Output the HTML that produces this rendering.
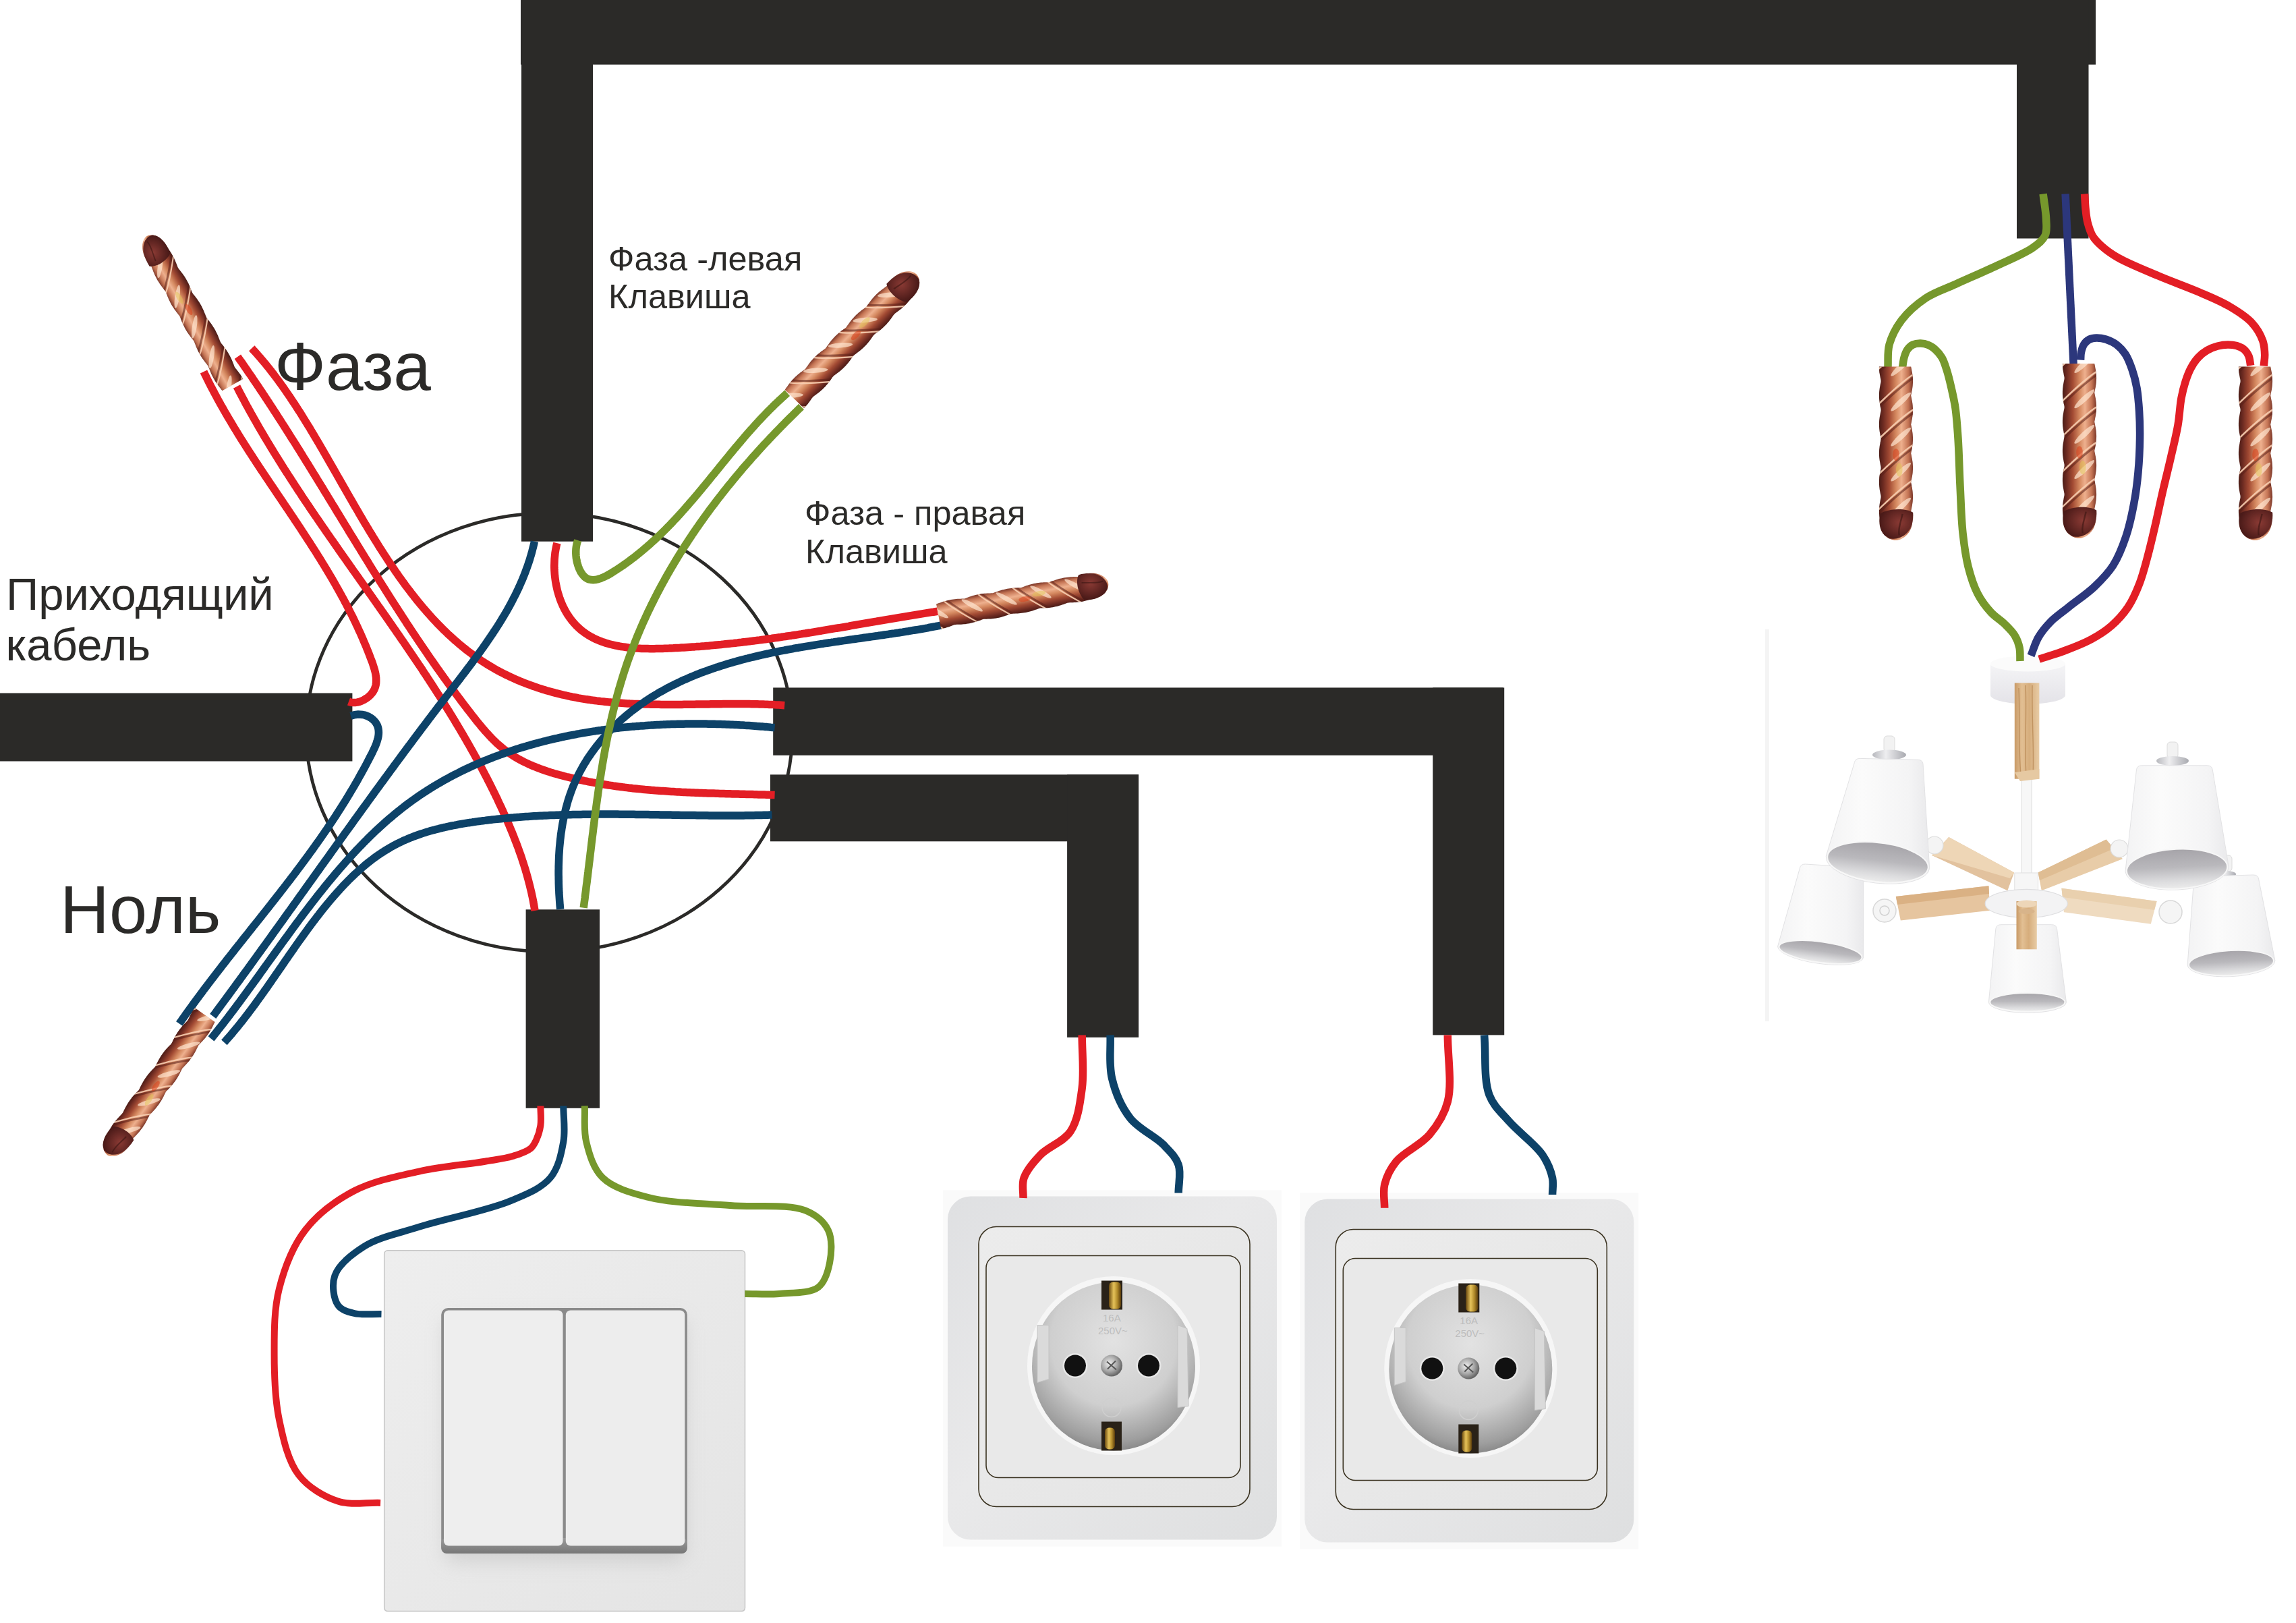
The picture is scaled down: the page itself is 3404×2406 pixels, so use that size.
<!DOCTYPE html>
<html><head><meta charset="utf-8"><style>
html,body{margin:0;padding:0;background:#fff;}
svg{display:block;}
text{font-family:"Liberation Sans", sans-serif;fill:#2b2a28;}
</style></head><body>
<svg xmlns="http://www.w3.org/2000/svg" width="3404" height="2406" viewBox="0 0 3404 2406">
<defs>
<linearGradient id="swplate" x1="0" y1="0" x2="1" y2="1">
<stop offset="0" stop-color="#eeeeee"/><stop offset="0.5" stop-color="#e9e9e9"/><stop offset="1" stop-color="#e4e4e4"/>
</linearGradient>
<filter id="swshadow" x="-20%" y="-20%" width="140%" height="150%">
<feGaussianBlur stdDeviation="14"/>
</filter>
<linearGradient id="rockbot" x1="0" y1="0" x2="0" y2="1">
<stop offset="0" stop-color="#9a9a9a"/><stop offset="1" stop-color="#777"/>
</linearGradient>
<linearGradient id="skplate" x1="0" y1="0" x2="1" y2="1">
<stop offset="0" stop-color="#dfe0e2"/><stop offset="0.45" stop-color="#e9e9ea"/><stop offset="1" stop-color="#dedfe0"/>
</linearGradient>
<linearGradient id="skin" x1="0" y1="0" x2="1" y2="1">
<stop offset="0" stop-color="#ececec"/><stop offset="1" stop-color="#e4e4e4"/>
</linearGradient>
<radialGradient id="recess" cx="0.5" cy="0.35" r="0.7">
<stop offset="0" stop-color="#e2e2e2"/><stop offset="0.55" stop-color="#cfcfcf"/><stop offset="0.85" stop-color="#9e9e9e"/><stop offset="1" stop-color="#777"/>
</radialGradient>
<linearGradient id="brass" x1="0" y1="0" x2="1" y2="0">
<stop offset="0" stop-color="#6b4a10"/><stop offset="0.4" stop-color="#e6c35a"/><stop offset="0.7" stop-color="#b08a2a"/><stop offset="1" stop-color="#5a3c0c"/>
</linearGradient>
<radialGradient id="screw" cx="0.4" cy="0.4" r="0.6">
<stop offset="0" stop-color="#f0f0f0"/><stop offset="0.6" stop-color="#a8a8a8"/><stop offset="1" stop-color="#666"/>
</radialGradient>
</defs>
<rect x="569.7" y="1853.8" width="534.8" height="534.8" rx="5" fill="url(#swplate)" stroke="#c6c6c6" stroke-width="1.5"/>
<rect x="660" y="1955" width="355" height="360" rx="12" fill="#bdbdbd" opacity="0.55" filter="url(#swshadow)"/>
<rect x="654.2" y="1939" width="364.7" height="364" rx="10" fill="#8a8a8a"/>
<rect x="654.2" y="2280" width="364.7" height="23" rx="8" fill="url(#rockbot)"/>
<rect x="658" y="1942.5" width="176.5" height="349" rx="7" fill="#eeeeee"/>
<rect x="838.8" y="1942.5" width="176.5" height="349" rx="7" fill="#ededed"/>
<g transform="translate(1650.0 2024.5)">
<rect x="-252" y="-260" width="502" height="528" fill="#fafafa"/>
<rect x="-245" y="-251" width="488" height="509" rx="34" fill="url(#skplate)"/>
<rect x="-199" y="-206" width="402" height="415" rx="26" fill="url(#skin)" stroke="#3a3220" stroke-width="1.6"/>
<rect x="-188" y="-163" width="377" height="329" rx="18" fill="#e9e9e9" stroke="#3a3220" stroke-width="1.6"/>
<ellipse cx="1" cy="0" rx="128" ry="132.5" fill="#f6f6f6"/>
<ellipse cx="1" cy="1" rx="121" ry="125" fill="url(#recess)"/>
<path d="M-112 -60 L-95 -60 L-95 20 L-112 25 Z M96 -60 L110 -55 L112 60 L96 62 Z" fill="#dadada" stroke="#c4c4c4" stroke-width="1"/>
<rect x="-17" y="-126" width="31" height="43" fill="#2a2218"/>
<rect x="-6" y="-124" width="18" height="40" rx="6" fill="url(#brass)"/>
<rect x="-17" y="83" width="30" height="43" fill="#2a2218"/>
<rect x="-12" y="92" width="15" height="32" rx="6" fill="url(#brass)"/>
<circle cx="-56" cy="0" r="18.5" fill="#e8e8e8"/>
<circle cx="-56" cy="0" r="16" fill="#111"/>
<circle cx="53" cy="0" r="18.5" fill="#e8e8e8"/>
<circle cx="53" cy="0" r="16" fill="#111"/>
<circle cx="-2" cy="0" r="16" fill="url(#screw)"/>
<path d="M-9 -6 L5 6 M-8 5 L4 -7" stroke="#555" stroke-width="2"/>
<text x="-15" y="-66" font-size="15" fill="#bdbdbd" style="fill:#bdbdbd">16A</text>
<text x="-22" y="-47" font-size="15" fill="#bdbdbd" style="fill:#bdbdbd">250V~</text>
<circle cx="-2" cy="62" r="14" fill="none" stroke="#cfcfcf" stroke-width="1.5"/>
</g>
<g transform="translate(2179.3 2028.5)">
<rect x="-252" y="-260" width="502" height="528" fill="#fafafa"/>
<rect x="-245" y="-251" width="488" height="509" rx="34" fill="url(#skplate)"/>
<rect x="-199" y="-206" width="402" height="415" rx="26" fill="url(#skin)" stroke="#3a3220" stroke-width="1.6"/>
<rect x="-188" y="-163" width="377" height="329" rx="18" fill="#e9e9e9" stroke="#3a3220" stroke-width="1.6"/>
<ellipse cx="1" cy="0" rx="128" ry="132.5" fill="#f6f6f6"/>
<ellipse cx="1" cy="1" rx="121" ry="125" fill="url(#recess)"/>
<path d="M-112 -60 L-95 -60 L-95 20 L-112 25 Z M96 -60 L110 -55 L112 60 L96 62 Z" fill="#dadada" stroke="#c4c4c4" stroke-width="1"/>
<rect x="-17" y="-126" width="31" height="43" fill="#2a2218"/>
<rect x="-6" y="-124" width="18" height="40" rx="6" fill="url(#brass)"/>
<rect x="-17" y="83" width="30" height="43" fill="#2a2218"/>
<rect x="-12" y="92" width="15" height="32" rx="6" fill="url(#brass)"/>
<circle cx="-56" cy="0" r="18.5" fill="#e8e8e8"/>
<circle cx="-56" cy="0" r="16" fill="#111"/>
<circle cx="53" cy="0" r="18.5" fill="#e8e8e8"/>
<circle cx="53" cy="0" r="16" fill="#111"/>
<circle cx="-2" cy="0" r="16" fill="url(#screw)"/>
<path d="M-9 -6 L5 6 M-8 5 L4 -7" stroke="#555" stroke-width="2"/>
<text x="-15" y="-66" font-size="15" fill="#bdbdbd" style="fill:#bdbdbd">16A</text>
<text x="-22" y="-47" font-size="15" fill="#bdbdbd" style="fill:#bdbdbd">250V~</text>
<circle cx="-2" cy="62" r="14" fill="none" stroke="#cfcfcf" stroke-width="1.5"/>
</g>
<defs>
<linearGradient id="shade" x1="0" y1="0" x2="1" y2="0">
<stop offset="0" stop-color="#f3f3f4"/><stop offset="0.35" stop-color="#fbfbfb"/><stop offset="0.8" stop-color="#f4f4f5"/><stop offset="1" stop-color="#e9e9eb"/>
</linearGradient>
<linearGradient id="inner" x1="0" y1="0" x2="0" y2="1">
<stop offset="0" stop-color="#a6a4a9"/><stop offset="0.45" stop-color="#b9b8bc"/><stop offset="0.8" stop-color="#dcdcde"/><stop offset="1" stop-color="#ececec"/>
</linearGradient>
<linearGradient id="silver" x1="0" y1="0" x2="1" y2="0">
<stop offset="0" stop-color="#b8b9be"/><stop offset="0.4" stop-color="#eeeef0"/><stop offset="1" stop-color="#a9aab0"/>
</linearGradient>
<linearGradient id="woodv" x1="0" y1="0" x2="1" y2="0">
<stop offset="0" stop-color="#c99a66"/><stop offset="0.3" stop-color="#e2bf93"/><stop offset="0.6" stop-color="#d6ad7c"/><stop offset="1" stop-color="#e8cca6"/>
</linearGradient>
<linearGradient id="canopy" x1="0" y1="0" x2="0" y2="1">
<stop offset="0" stop-color="#f4f4f6"/><stop offset="1" stop-color="#e4e3e8"/>
</linearGradient>
</defs>
<rect x="2617" y="933" width="5.8" height="581" fill="#f4f4f4"/>
<path d="M2668.4 1287.0 Q2669.4 1281.0 2676.4 1281.0 L2754.7 1286.0 Q2761.7 1286.0 2762.7 1292.0 L2762.4 1420.1 A64.0 17.5 7.70 0 1 2635.6 1402.9 Z" fill="url(#shade)" stroke="#e2e2e4" stroke-width="1"/>
<ellipse cx="2699.0" cy="1411.5" rx="62.0" ry="15.5" transform="rotate(7.70 2699.0 1411.5)" fill="url(#inner)" stroke="#f7f7f7" stroke-width="2"/>
<rect x="3293.0" y="1268.0" width="16.0" height="24.0" rx="5" fill="#f2f2f2" stroke="#dcdcdc" stroke-width="1"/>
<ellipse cx="3301.0" cy="1296.0" rx="14.0" ry="5.0" fill="url(#silver)"/>
<path d="M3252.5 1305.3 Q3253.5 1299.3 3260.5 1299.3 L3340.6 1297.0 Q3347.6 1297.0 3348.6 1303.0 L3372.9 1424.1 A65.0 20.5 -3.00 0 1 3243.1 1430.9 Z" fill="url(#shade)" stroke="#e2e2e4" stroke-width="1"/>
<ellipse cx="3308.0" cy="1427.5" rx="63.0" ry="18.5" transform="rotate(-3.00 3308.0 1427.5)" fill="url(#inner)" stroke="#f7f7f7" stroke-width="2"/>
<path d="M2958.9 1376.7 Q2959.9 1370.7 2966.9 1370.7 L3041.5 1370.7 Q3048.5 1370.7 3049.5 1376.7 L3063.4 1485.7 A57.5 15.7 0.00 0 1 2948.4 1485.7 Z" fill="url(#shade)" stroke="#e2e2e4" stroke-width="1"/>
<ellipse cx="3005.9" cy="1485.7" rx="55.5" ry="13.7" transform="rotate(0.00 3005.9 1485.7)" fill="url(#inner)" stroke="#f7f7f7" stroke-width="2"/>
<rect x="2997.4" y="1148" width="14.8" height="150" fill="#f7f7f7" stroke="#e2e2e2" stroke-width="1.2"/>
<path d="M2951 984 L2951 1031 A55.6 13.6 0 0 0 3062 1031 L3062 984 Z" fill="url(#canopy)"/>
<ellipse cx="3006.4" cy="983.9" rx="55.6" ry="11.5" fill="#fbfbfb"/>
<rect x="2986.8" y="1012.4" width="36.6" height="142.3" fill="url(#woodv)"/>
<path d="M2993 1020 C2995 1060 2992 1100 2996 1150 M3003 1016 C3005 1060 3001 1110 3004 1150 M3013 1016 C3012 1070 3016 1110 3014 1150" stroke="#b58550" stroke-width="1.5" fill="none" opacity="0.7"/>
<path d="M2986.8 1145 L3023.4 1140 L3023.4 1154.7 L2995 1158 Z" fill="#e6c9a2"/>
<polygon points="2864.1,1267.9 2889.2,1241.1 2986.1,1293.4 2976.3,1320.2" fill="#e2c29e" />
<polygon points="2864.1,1267.9 2889.2,1241.1 2986.1,1293.4 2980.0,1302.0" fill="#eed6b6" />
<polygon points="3021.6,1293.4 3122.6,1244.6 3147.0,1273.2 3026.8,1320.2" fill="#e8cca8" />
<polygon points="3021.6,1293.4 3122.6,1244.6 3134.0,1258.0 3024.0,1305.0" fill="#dfbd93" />
<circle cx="2868" cy="1253" r="13" fill="#f4f4f4" stroke="#dcdcdc" stroke-width="1.2"/>
<circle cx="3142" cy="1258" r="13" fill="#f4f4f4" stroke="#dcdcdc" stroke-width="1.2"/>
<rect x="2986.8" y="1294" width="34.8" height="27" fill="#f6f6f6" stroke="#e0e0e0" stroke-width="1"/>
<polygon points="2810.8,1328.9 2948.4,1313.2 2950.2,1349.8 2817.8,1364.5" fill="#e6c59f" />
<polygon points="2810.8,1328.9 2948.4,1313.2 2949.0,1325.0 2813.0,1341.0" fill="#dab184" />
<polygon points="3056.4,1316.7 3197.6,1335.9 3188.8,1369.7 3059.9,1352.3" fill="#efdbc0" />
<polygon points="3056.4,1316.7 3197.6,1335.9 3194.0,1349.0 3058.0,1330.0" fill="#e9d0ae" />
<circle cx="2794" cy="1350" r="17" fill="#f5f5f5" stroke="#d8d8d8" stroke-width="1.5"/>
<circle cx="2794" cy="1350" r="7" fill="none" stroke="#d0d0d0" stroke-width="1.5"/>
<circle cx="3218" cy="1352" r="17" fill="#f5f5f5" stroke="#d8d8d8" stroke-width="1.5"/>
<ellipse cx="3004.2" cy="1339.4" rx="61" ry="21" fill="#f3f3f4" stroke="#dedee0" stroke-width="1.2"/>
<rect x="2989.5" y="1336" width="30.3" height="71.3" fill="url(#woodv)"/>
<ellipse cx="3004.6" cy="1340" rx="15" ry="5.5" fill="#edd6b8"/>
<ellipse cx="3004.6" cy="1351" rx="12" ry="4" fill="#d8b48a"/>
<rect x="2793.0" y="1091.0" width="16.0" height="24.0" rx="5" fill="#f2f2f2" stroke="#dcdcdc" stroke-width="1"/>
<ellipse cx="2801.0" cy="1119.0" rx="25.0" ry="7.5" fill="url(#silver)"/>
<path d="M2749.4 1130.4 Q2750.4 1124.4 2757.4 1124.4 L2843.0 1126.2 Q2850.0 1126.2 2851.0 1132.2 L2860.7 1287.2 A77.2 31.0 6.70 0 1 2707.3 1269.2 Z" fill="url(#shade)" stroke="#e2e2e4" stroke-width="1"/>
<ellipse cx="2784.0" cy="1278.2" rx="75.2" ry="29.0" transform="rotate(6.70 2784.0 1278.2)" fill="url(#inner)" stroke="#f7f7f7" stroke-width="2"/>
<rect x="3213.0" y="1100.0" width="16.0" height="24.0" rx="5" fill="#f2f2f2" stroke="#dcdcdc" stroke-width="1"/>
<ellipse cx="3221.0" cy="1128.0" rx="24.0" ry="7.0" fill="url(#silver)"/>
<path d="M3167.5 1140.8 Q3168.5 1134.8 3175.5 1134.8 L3272.2 1134.8 Q3279.2 1134.8 3280.2 1140.8 L3304.2 1284.5 A76.7 31.4 -2.80 0 1 3151.0 1291.9 Z" fill="url(#shade)" stroke="#e2e2e4" stroke-width="1"/>
<ellipse cx="3227.6" cy="1288.2" rx="74.7" ry="29.4" transform="rotate(-2.80 3227.6 1288.2)" fill="url(#inner)" stroke="#f7f7f7" stroke-width="2"/>
<defs>
<linearGradient id="cu" x1="0" y1="-21" x2="0" y2="21" gradientUnits="userSpaceOnUse">
<stop offset="0" stop-color="#7a3628"/><stop offset="0.14" stop-color="#c47454"/>
<stop offset="0.34" stop-color="#eeb08e"/><stop offset="0.5" stop-color="#d4885f"/>
<stop offset="0.7" stop-color="#a24a33"/><stop offset="0.88" stop-color="#6c2a21"/><stop offset="1" stop-color="#4a1c16"/>
</linearGradient>
<radialGradient id="cutip" cx="0.45" cy="0.4" r="0.6">
<stop offset="0" stop-color="#8a3a34"/><stop offset="1" stop-color="#4a1a18"/>
</radialGradient>
<clipPath id="cuclip"><path d="M0.0 -18.5 L2.0 -18.9 L4.0 -19.2 L6.0 -19.5 L8.0 -19.9 L10.0 -20.1 L12.0 -20.4 L14.0 -20.6 L16.0 -20.7 L18.0 -20.8 L20.0 -20.9 L22.0 -20.9 L24.0 -20.8 L26.0 -20.7 L28.0 -20.6 L30.0 -20.4 L32.0 -20.1 L34.0 -19.9 L36.0 -19.5 L38.0 -19.2 L40.0 -18.9 L42.0 -18.5 L44.0 -18.9 L46.0 -19.2 L48.0 -19.5 L50.0 -19.9 L52.0 -20.1 L54.0 -20.4 L56.0 -20.6 L58.0 -20.7 L60.0 -20.8 L62.0 -20.9 L64.0 -20.9 L66.0 -20.8 L68.0 -20.7 L70.0 -20.6 L72.0 -20.4 L74.0 -20.1 L76.0 -19.9 L78.0 -19.5 L80.0 -19.2 L82.0 -18.9 L84.0 -18.5 L86.0 -18.9 L88.0 -19.2 L90.0 -19.5 L92.0 -19.9 L94.0 -20.1 L96.0 -20.4 L98.0 -20.6 L100.0 -20.7 L102.0 -20.8 L104.0 -20.9 L106.0 -20.9 L108.0 -20.8 L110.0 -20.7 L112.0 -20.6 L114.0 -20.4 L116.0 -20.1 L118.0 -19.9 L120.0 -19.5 L122.0 -19.2 L124.0 -18.9 L126.0 -18.5 L128.0 -18.9 L130.0 -19.2 L132.0 -19.5 L134.0 -19.9 L136.0 -20.1 L138.0 -20.4 L140.0 -20.6 L142.0 -20.7 L144.0 -20.8 L146.0 -20.9 L148.0 -20.9 L150.0 -20.8 L152.0 -20.7 L154.0 -20.6 L156.0 -20.4 L158.0 -20.1 L160.0 -19.9 L162.0 -19.5 L164.0 -19.2 L166.0 -18.9 L168.0 -18.5 L170.0 -18.9 L172.0 -19.2 L174.0 -19.5 L176.0 -19.9 L178.0 -20.1 L180.0 -20.4 L182.0 -20.6 L184.0 -20.7 L186.0 -20.8 L188.0 -20.9 L190.0 -20.9 L192.0 -20.8 L194.0 -20.7 L196.0 -20.6 L198.0 -20.4 L200.0 -20.1 L202.0 -19.9 L204.0 -19.5 L206.0 -19.2 L208.0 -18.9 L210.0 -18.5 L212.0 -18.9 L214.0 -19.2 L216.0 -19.5 L218.0 -19.9 L220.0 -20.1 C240 -22 254 -8 252 2 C250 14 238 22 220 20.3 L220.0 20.3 L218.0 20.5 L216.0 20.7 L214.0 20.8 L212.0 20.9 L210.0 20.9 L208.0 20.9 L206.0 20.8 L204.0 20.7 L202.0 20.5 L200.0 20.3 L198.0 20.0 L196.0 19.7 L194.0 19.4 L192.0 19.0 L190.0 18.7 L188.0 18.7 L186.0 19.0 L184.0 19.4 L182.0 19.7 L180.0 20.0 L178.0 20.3 L176.0 20.5 L174.0 20.7 L172.0 20.8 L170.0 20.9 L168.0 20.9 L166.0 20.9 L164.0 20.8 L162.0 20.7 L160.0 20.5 L158.0 20.3 L156.0 20.0 L154.0 19.7 L152.0 19.4 L150.0 19.0 L148.0 18.7 L146.0 18.7 L144.0 19.0 L142.0 19.4 L140.0 19.7 L138.0 20.0 L136.0 20.3 L134.0 20.5 L132.0 20.7 L130.0 20.8 L128.0 20.9 L126.0 20.9 L124.0 20.9 L122.0 20.8 L120.0 20.7 L118.0 20.5 L116.0 20.3 L114.0 20.0 L112.0 19.7 L110.0 19.4 L108.0 19.0 L106.0 18.7 L104.0 18.7 L102.0 19.0 L100.0 19.4 L98.0 19.7 L96.0 20.0 L94.0 20.3 L92.0 20.5 L90.0 20.7 L88.0 20.8 L86.0 20.9 L84.0 20.9 L82.0 20.9 L80.0 20.8 L78.0 20.7 L76.0 20.5 L74.0 20.3 L72.0 20.0 L70.0 19.7 L68.0 19.4 L66.0 19.0 L64.0 18.7 L62.0 18.7 L60.0 19.0 L58.0 19.4 L56.0 19.7 L54.0 20.0 L52.0 20.3 L50.0 20.5 L48.0 20.7 L46.0 20.8 L44.0 20.9 L42.0 20.9 L40.0 20.9 L38.0 20.8 L36.0 20.7 L34.0 20.5 L32.0 20.3 L30.0 20.0 L28.0 19.7 L26.0 19.4 L24.0 19.0 L22.0 18.7 L20.0 18.7 L18.0 19.0 L16.0 19.4 L14.0 19.7 L12.0 20.0 L10.0 20.3 L8.0 20.5 L6.0 20.7 L4.0 20.8 L2.0 20.9 L0.0 20.9 Z"/></clipPath>
<g id="copper">
<path d="M0.0 -18.5 L2.0 -18.9 L4.0 -19.2 L6.0 -19.5 L8.0 -19.9 L10.0 -20.1 L12.0 -20.4 L14.0 -20.6 L16.0 -20.7 L18.0 -20.8 L20.0 -20.9 L22.0 -20.9 L24.0 -20.8 L26.0 -20.7 L28.0 -20.6 L30.0 -20.4 L32.0 -20.1 L34.0 -19.9 L36.0 -19.5 L38.0 -19.2 L40.0 -18.9 L42.0 -18.5 L44.0 -18.9 L46.0 -19.2 L48.0 -19.5 L50.0 -19.9 L52.0 -20.1 L54.0 -20.4 L56.0 -20.6 L58.0 -20.7 L60.0 -20.8 L62.0 -20.9 L64.0 -20.9 L66.0 -20.8 L68.0 -20.7 L70.0 -20.6 L72.0 -20.4 L74.0 -20.1 L76.0 -19.9 L78.0 -19.5 L80.0 -19.2 L82.0 -18.9 L84.0 -18.5 L86.0 -18.9 L88.0 -19.2 L90.0 -19.5 L92.0 -19.9 L94.0 -20.1 L96.0 -20.4 L98.0 -20.6 L100.0 -20.7 L102.0 -20.8 L104.0 -20.9 L106.0 -20.9 L108.0 -20.8 L110.0 -20.7 L112.0 -20.6 L114.0 -20.4 L116.0 -20.1 L118.0 -19.9 L120.0 -19.5 L122.0 -19.2 L124.0 -18.9 L126.0 -18.5 L128.0 -18.9 L130.0 -19.2 L132.0 -19.5 L134.0 -19.9 L136.0 -20.1 L138.0 -20.4 L140.0 -20.6 L142.0 -20.7 L144.0 -20.8 L146.0 -20.9 L148.0 -20.9 L150.0 -20.8 L152.0 -20.7 L154.0 -20.6 L156.0 -20.4 L158.0 -20.1 L160.0 -19.9 L162.0 -19.5 L164.0 -19.2 L166.0 -18.9 L168.0 -18.5 L170.0 -18.9 L172.0 -19.2 L174.0 -19.5 L176.0 -19.9 L178.0 -20.1 L180.0 -20.4 L182.0 -20.6 L184.0 -20.7 L186.0 -20.8 L188.0 -20.9 L190.0 -20.9 L192.0 -20.8 L194.0 -20.7 L196.0 -20.6 L198.0 -20.4 L200.0 -20.1 L202.0 -19.9 L204.0 -19.5 L206.0 -19.2 L208.0 -18.9 L210.0 -18.5 L212.0 -18.9 L214.0 -19.2 L216.0 -19.5 L218.0 -19.9 L220.0 -20.1 C240 -22 254 -8 252 2 C250 14 238 22 220 20.3 L220.0 20.3 L218.0 20.5 L216.0 20.7 L214.0 20.8 L212.0 20.9 L210.0 20.9 L208.0 20.9 L206.0 20.8 L204.0 20.7 L202.0 20.5 L200.0 20.3 L198.0 20.0 L196.0 19.7 L194.0 19.4 L192.0 19.0 L190.0 18.7 L188.0 18.7 L186.0 19.0 L184.0 19.4 L182.0 19.7 L180.0 20.0 L178.0 20.3 L176.0 20.5 L174.0 20.7 L172.0 20.8 L170.0 20.9 L168.0 20.9 L166.0 20.9 L164.0 20.8 L162.0 20.7 L160.0 20.5 L158.0 20.3 L156.0 20.0 L154.0 19.7 L152.0 19.4 L150.0 19.0 L148.0 18.7 L146.0 18.7 L144.0 19.0 L142.0 19.4 L140.0 19.7 L138.0 20.0 L136.0 20.3 L134.0 20.5 L132.0 20.7 L130.0 20.8 L128.0 20.9 L126.0 20.9 L124.0 20.9 L122.0 20.8 L120.0 20.7 L118.0 20.5 L116.0 20.3 L114.0 20.0 L112.0 19.7 L110.0 19.4 L108.0 19.0 L106.0 18.7 L104.0 18.7 L102.0 19.0 L100.0 19.4 L98.0 19.7 L96.0 20.0 L94.0 20.3 L92.0 20.5 L90.0 20.7 L88.0 20.8 L86.0 20.9 L84.0 20.9 L82.0 20.9 L80.0 20.8 L78.0 20.7 L76.0 20.5 L74.0 20.3 L72.0 20.0 L70.0 19.7 L68.0 19.4 L66.0 19.0 L64.0 18.7 L62.0 18.7 L60.0 19.0 L58.0 19.4 L56.0 19.7 L54.0 20.0 L52.0 20.3 L50.0 20.5 L48.0 20.7 L46.0 20.8 L44.0 20.9 L42.0 20.9 L40.0 20.9 L38.0 20.8 L36.0 20.7 L34.0 20.5 L32.0 20.3 L30.0 20.0 L28.0 19.7 L26.0 19.4 L24.0 19.0 L22.0 18.7 L20.0 18.7 L18.0 19.0 L16.0 19.4 L14.0 19.7 L12.0 20.0 L10.0 20.3 L8.0 20.5 L6.0 20.7 L4.0 20.8 L2.0 20.9 L0.0 20.9 Z" fill="url(#cu)"/>
<g clip-path="url(#cuclip)">
<g fill="#ffe6d0" opacity="0.7"><ellipse cx="0" cy="-6" rx="18" ry="3.6" transform="rotate(42 0 -6)"/><ellipse cx="51" cy="-6" rx="18" ry="3.6" transform="rotate(42 51 -6)"/><ellipse cx="102" cy="-6" rx="18" ry="3.6" transform="rotate(42 102 -6)"/><ellipse cx="153" cy="-6" rx="18" ry="3.6" transform="rotate(42 153 -6)"/><ellipse cx="204" cy="-6" rx="18" ry="3.6" transform="rotate(42 204 -6)"/></g>
<g stroke="#5a2018" stroke-width="3" opacity="0.55" fill="none"><path d="M-35 -22 C-25 -8 -7 8 9 22"/><path d="M16 -22 C26 -8 44 8 60 22"/><path d="M67 -22 C77 -8 95 8 111 22"/><path d="M118 -22 C128 -8 146 8 162 22"/><path d="M169 -22 C179 -8 197 8 213 22"/><path d="M220 -22 C230 -8 248 8 264 22"/></g>
<g stroke="#f8cfb2" stroke-width="2.2" opacity="0.9" fill="none"><path d="M-40 -22 C-30 -8 -12 8 4 22"/><path d="M11 -22 C21 -8 39 8 55 22"/><path d="M62 -22 C72 -8 90 8 106 22"/><path d="M113 -22 C123 -8 141 8 157 22"/><path d="M164 -22 C174 -8 192 8 208 22"/><path d="M215 -22 C225 -8 243 8 259 22"/></g>
<ellipse cx="128" cy="0" rx="9" ry="4" fill="#d8401c" opacity="0.55"/>
<ellipse cx="150" cy="-4" rx="10" ry="4" fill="#e2c454" opacity="0.5"/>
</g>
<path d="M212 -21 C244 -23 254 -2 249 9 C244 19 230 21 214 20 C206 10 205 -12 212 -21 Z" fill="url(#cutip)"/>
<path d="M214 -8 C226 -6 236 -2 245 -4" stroke="#3a1612" stroke-width="2" fill="none" opacity="0.6"/>
</g>
</defs>
<ellipse cx="814.3" cy="1085.8" rx="360.4" ry="325.3" transform="rotate(0.47 814.3 1085.8)" fill="none" stroke="#2b2a28" stroke-width="4.8"/>
<g fill="#2b2a28">
<rect x="772" y="0" width="2335" height="95.7"/>
<rect x="773" y="0" width="106" height="802.7"/>
<rect x="2990" y="0" width="106.5" height="353.5"/>
<rect x="0" y="1027.5" width="522.4" height="101"/>
<rect x="1146.2" y="1019.4" width="1082" height="100.3"/>
<rect x="2124.2" y="1019.4" width="106" height="515"/>
<rect x="1142" y="1148.3" width="546" height="99"/>
<rect x="1582.1" y="1148.3" width="106" height="389.6"/>
<rect x="779.6" y="1348.3" width="109.4" height="294.5"/>
</g>
<path d="M302.0 551.0 L303.3 553.7 L304.6 556.5 L306.0 559.2 L307.3 561.9 L308.7 564.7 L310.0 567.4 L311.4 570.1 L312.8 572.8 L314.2 575.5 L315.6 578.2 L317.0 580.8 L318.4 583.5 L319.9 586.2 L321.3 588.9 L322.7 591.5 L324.2 594.2 L325.7 596.8 L327.1 599.5 L328.6 602.1 L330.1 604.7 L331.6 607.4 L333.1 610.0 L334.6 612.6 L336.1 615.2 L337.6 617.8 L339.2 620.4 L340.7 623.0 L342.3 625.6 L343.8 628.2 L345.4 630.8 L346.9 633.4 L348.5 636.0 L350.1 638.5 L351.6 641.1 L353.2 643.7 L354.8 646.3 L356.4 648.8 L358.0 651.4 L359.6 653.9 L361.2 656.5 L362.8 659.0 L364.5 661.6 L366.1 664.1 L367.7 666.7 L369.3 669.2 L371.0 671.7 L372.6 674.3 L374.3 676.8 L375.9 679.3 L377.6 681.9 L379.2 684.4 L380.9 686.9 L382.5 689.4 L384.2 691.9 L385.8 694.5 L387.5 697.0 L389.2 699.5 L390.9 702.0 L392.5 704.5 L394.2 707.0 L395.9 709.5 L397.6 712.0 L399.2 714.5 L400.9 717.0 L402.6 719.5 L404.3 722.0 L406.0 724.5 L407.7 727.0 L409.3 729.6 L411.0 732.1 L412.7 734.6 L414.4 737.1 L416.1 739.6 L417.8 742.1 L419.5 744.6 L421.1 747.1 L422.8 749.6 L424.5 752.1 L426.2 754.6 L427.9 757.1 L429.6 759.6 L431.2 762.1 L432.9 764.6 L434.6 767.1 L436.3 769.6 L437.9 772.1 L439.6 774.6 L441.3 777.1 L442.9 779.6 L444.6 782.1 L446.3 784.7 L447.9 787.2 L449.6 789.7 L451.2 792.2 L452.9 794.7 L454.5 797.3 L456.2 799.8 L457.8 802.3 L459.5 804.8 L461.1 807.4 L462.7 809.9 L464.3 812.5 L466.0 815.0 L467.6 817.5 L469.2 820.1 L470.8 822.6 L472.4 825.2 L474.0 827.7 L475.6 830.3 L477.2 832.9 L478.7 835.4 L480.3 838.0 L481.9 840.6 L483.4 843.2 L485.0 845.7 L486.5 848.3 L488.1 850.9 L489.6 853.5 L491.2 856.1 L492.7 858.7 L494.2 861.3 L495.7 863.9 L497.2 866.5 L498.7 869.2 L500.2 871.8 L501.7 874.4 L503.1 877.0 L504.6 879.7 L506.0 882.3 L507.5 885.0 L508.9 887.6 L510.4 890.3 L511.8 893.0 L513.2 895.6 L514.6 898.3 L516.0 901.0 L517.4 903.7 L518.7 906.4 L520.1 909.1 L521.5 911.8 L522.8 914.5 L524.2 917.2 L525.5 919.9 L526.8 922.7 L528.1 925.4 L529.4 928.2 L530.7 930.9 L531.9 933.7 L533.2 936.4 L534.5 939.2 L535.7 942.0 L536.9 944.8 L538.1 947.6 L539.3 950.4 L540.5 953.2 L541.7 956.0 L542.9 958.8 L544.0 961.7 L545.2 964.5 L546.3 967.4 L547.4 970.2 L548.5 973.1 L549.6 976.0 L550.7 978.9 L551.8 981.7 L552.8 984.6 L553.7 987.5 L554.6 990.4 L555.5 993.3 L556.2 996.1 L556.8 998.9 L557.2 1001.7 L557.6 1004.5 L557.7 1007.3 L557.7 1010.0 L557.6 1012.6 L557.2 1015.2 L556.6 1017.8 L555.7 1020.3 L554.7 1022.7 L553.3 1025.1 L551.7 1027.4 L549.8 1029.7 L547.6 1031.8 L545.1 1033.9 L542.3 1035.8 L539.3 1037.6 L536.1 1039.1 L532.9 1040.3 L529.6 1041.1 L526.3 1041.6 L523.1 1041.6 L519.9 1041.1 L517.0 1040.0" fill="none" stroke="#e31e25" stroke-width="11.5" stroke-linecap="butt" stroke-linejoin="round"/>
<path d="M351.0 573.0 L352.4 575.7 L353.7 578.3 L355.1 580.9 L356.5 583.6 L357.9 586.2 L359.3 588.9 L360.7 591.5 L362.1 594.1 L363.5 596.8 L364.9 599.4 L366.3 602.0 L367.8 604.6 L369.2 607.3 L370.7 609.9 L372.1 612.5 L373.6 615.1 L375.0 617.7 L376.5 620.3 L378.0 622.9 L379.5 625.5 L380.9 628.1 L382.4 630.7 L383.9 633.3 L385.4 635.9 L386.9 638.5 L388.5 641.1 L390.0 643.7 L391.5 646.2 L393.0 648.8 L394.6 651.4 L396.1 654.0 L397.7 656.5 L399.2 659.1 L400.8 661.7 L402.3 664.2 L403.9 666.8 L405.5 669.4 L407.0 671.9 L408.6 674.5 L410.2 677.0 L411.8 679.6 L413.4 682.2 L415.0 684.7 L416.6 687.3 L418.2 689.8 L419.8 692.3 L421.4 694.9 L423.0 697.4 L424.6 700.0 L426.3 702.5 L427.9 705.0 L429.5 707.6 L431.2 710.1 L432.8 712.6 L434.5 715.2 L436.1 717.7 L437.8 720.2 L439.4 722.8 L441.1 725.3 L442.7 727.8 L444.4 730.3 L446.1 732.8 L447.7 735.4 L449.4 737.9 L451.1 740.4 L452.8 742.9 L454.5 745.4 L456.2 747.9 L457.8 750.4 L459.5 753.0 L461.2 755.5 L462.9 758.0 L464.6 760.5 L466.3 763.0 L468.0 765.5 L469.8 768.0 L471.5 770.5 L473.2 773.0 L474.9 775.5 L476.6 778.0 L478.3 780.5 L480.1 783.0 L481.8 785.5 L483.5 788.0 L485.2 790.5 L487.0 793.0 L488.7 795.5 L490.4 798.0 L492.2 800.5 L493.9 802.9 L495.6 805.4 L497.4 807.9 L499.1 810.4 L500.9 812.9 L502.6 815.4 L504.3 817.9 L506.1 820.4 L507.8 822.9 L509.6 825.4 L511.3 827.8 L513.1 830.3 L514.8 832.8 L516.6 835.3 L518.3 837.8 L520.1 840.3 L521.8 842.8 L523.6 845.3 L525.3 847.7 L527.1 850.2 L528.8 852.7 L530.6 855.2 L532.4 857.7 L534.1 860.2 L535.9 862.7 L537.6 865.1 L539.4 867.6 L541.1 870.1 L542.9 872.6 L544.7 875.1 L546.4 877.6 L548.2 880.1 L549.9 882.5 L551.7 885.0 L553.4 887.5 L555.2 890.0 L556.9 892.5 L558.7 895.0 L560.4 897.5 L562.2 900.0 L563.9 902.5 L565.7 904.9 L567.4 907.4 L569.2 909.9 L570.9 912.4 L572.7 914.9 L574.4 917.4 L576.2 919.9 L577.9 922.4 L579.6 924.9 L581.4 927.4 L583.1 929.9 L584.8 932.4 L586.6 934.9 L588.3 937.4 L590.0 939.9 L591.8 942.4 L593.5 944.9 L595.2 947.4 L596.9 949.9 L598.7 952.4 L600.4 954.9 L602.1 957.4 L603.8 959.9 L605.5 962.4 L607.2 964.9 L608.9 967.4 L610.6 970.0 L612.3 972.5 L614.0 975.0 L615.7 977.5 L617.4 980.0 L619.1 982.5 L620.8 985.1 L622.5 987.6 L624.2 990.1 L625.9 992.6 L627.5 995.2 L629.2 997.7 L630.9 1000.2 L632.5 1002.7 L634.2 1005.3 L635.9 1007.8 L637.5 1010.3 L639.2 1012.9 L640.8 1015.4 L642.5 1018.0 L644.1 1020.5 L645.8 1023.1 L647.4 1025.6 L649.0 1028.1 L650.7 1030.7 L652.3 1033.2 L653.9 1035.8 L655.5 1038.4 L657.1 1040.9 L658.7 1043.5 L660.3 1046.0 L661.9 1048.6 L663.5 1051.2 L665.1 1053.7 L666.7 1056.3 L668.3 1058.9 L669.9 1061.4 L671.4 1064.0 L673.0 1066.6 L674.6 1069.2 L676.1 1071.8 L677.7 1074.3 L679.2 1076.9 L680.8 1079.5 L682.3 1082.1 L683.8 1084.7 L685.4 1087.3 L686.9 1089.9 L688.4 1092.5 L689.9 1095.1 L691.4 1097.7 L692.9 1100.3 L694.4 1102.9 L695.9 1105.5 L697.4 1108.2 L698.9 1110.8 L700.3 1113.4 L701.8 1116.0 L703.3 1118.7 L704.7 1121.3 L706.2 1123.9 L707.6 1126.6 L709.0 1129.2 L710.5 1131.8 L711.9 1134.5 L713.3 1137.1 L714.7 1139.8 L716.1 1142.4 L717.5 1145.1 L718.9 1147.8 L720.3 1150.4 L721.7 1153.1 L723.0 1155.8 L724.4 1158.4 L725.8 1161.1 L727.1 1163.8 L728.5 1166.5 L729.8 1169.2 L731.1 1171.8 L732.4 1174.5 L733.8 1177.2 L735.1 1179.9 L736.4 1182.6 L737.7 1185.3 L738.9 1188.0 L740.2 1190.8 L741.5 1193.5 L742.8 1196.2 L744.0 1198.9 L745.3 1201.6 L746.5 1204.4 L747.7 1207.1 L748.9 1209.8 L750.2 1212.6 L751.4 1215.3 L752.6 1218.1 L753.7 1220.8 L754.9 1223.6 L756.1 1226.4 L757.2 1229.1 L758.4 1231.9 L759.5 1234.7 L760.6 1237.4 L761.7 1240.2 L762.8 1243.0 L763.9 1245.8 L765.0 1248.6 L766.1 1251.4 L767.1 1254.2 L768.2 1257.0 L769.2 1259.9 L770.2 1262.7 L771.2 1265.5 L772.2 1268.3 L773.2 1271.2 L774.1 1274.0 L775.0 1276.9 L776.0 1279.7 L776.9 1282.6 L777.8 1285.4 L778.7 1288.3 L779.5 1291.2 L780.4 1294.1 L781.2 1297.0 L782.0 1299.8 L782.8 1302.7 L783.6 1305.7 L784.3 1308.6 L785.1 1311.5 L785.8 1314.4 L786.5 1317.3 L787.2 1320.3 L787.9 1323.2 L788.5 1326.2 L789.2 1329.1 L789.8 1332.1 L790.4 1335.0 L790.9 1338.0 L791.5 1341.0 L792.0 1344.0 L792.5 1347.0 L793.0 1350.0" fill="none" stroke="#e31e25" stroke-width="11.5" stroke-linecap="butt" stroke-linejoin="round"/>
<path d="M352.4 528.8 L354.1 531.2 L355.8 533.7 L357.6 536.1 L359.3 538.6 L361.0 541.0 L362.7 543.5 L364.4 546.0 L366.1 548.4 L367.8 550.9 L369.5 553.4 L371.2 555.8 L372.9 558.3 L374.6 560.8 L376.2 563.3 L377.9 565.8 L379.6 568.2 L381.3 570.7 L383.0 573.2 L384.6 575.7 L386.3 578.2 L388.0 580.7 L389.6 583.2 L391.3 585.7 L392.9 588.2 L394.6 590.7 L396.2 593.2 L397.9 595.7 L399.5 598.2 L401.2 600.7 L402.8 603.3 L404.5 605.8 L406.1 608.3 L407.7 610.8 L409.4 613.3 L411.0 615.9 L412.6 618.4 L414.3 620.9 L415.9 623.5 L417.5 626.0 L419.1 628.5 L420.8 631.1 L422.4 633.6 L424.0 636.1 L425.6 638.7 L427.2 641.2 L428.8 643.8 L430.4 646.3 L432.0 648.9 L433.7 651.4 L435.3 654.0 L436.9 656.5 L438.5 659.1 L440.1 661.6 L441.7 664.2 L443.3 666.7 L444.9 669.3 L446.5 671.9 L448.1 674.4 L449.6 677.0 L451.2 679.5 L452.8 682.1 L454.4 684.7 L456.0 687.2 L457.6 689.8 L459.2 692.4 L460.8 694.9 L462.3 697.5 L463.9 700.1 L465.5 702.7 L467.1 705.2 L468.7 707.8 L470.3 710.4 L471.8 712.9 L473.4 715.5 L475.0 718.1 L476.6 720.7 L478.2 723.2 L479.7 725.8 L481.3 728.4 L482.9 731.0 L484.5 733.6 L486.0 736.1 L487.6 738.7 L489.2 741.3 L490.8 743.9 L492.3 746.5 L493.9 749.0 L495.5 751.6 L497.1 754.2 L498.6 756.8 L500.2 759.4 L501.8 761.9 L503.4 764.5 L504.9 767.1 L506.5 769.7 L508.1 772.3 L509.7 774.9 L511.2 777.4 L512.8 780.0 L514.4 782.6 L516.0 785.2 L517.5 787.8 L519.1 790.3 L520.7 792.9 L522.3 795.5 L523.9 798.1 L525.4 800.7 L527.0 803.2 L528.6 805.8 L530.2 808.4 L531.8 811.0 L533.4 813.5 L534.9 816.1 L536.5 818.7 L538.1 821.3 L539.7 823.8 L541.3 826.4 L542.9 829.0 L544.5 831.6 L546.1 834.1 L547.6 836.7 L549.2 839.3 L550.8 841.8 L552.4 844.4 L554.0 847.0 L555.6 849.5 L557.2 852.1 L558.8 854.7 L560.4 857.2 L562.0 859.8 L563.6 862.3 L565.3 864.9 L566.9 867.5 L568.5 870.0 L570.1 872.6 L571.7 875.1 L573.3 877.7 L574.9 880.2 L576.6 882.8 L578.2 885.3 L579.8 887.9 L581.4 890.4 L583.0 893.0 L584.7 895.5 L586.3 898.1 L587.9 900.6 L589.6 903.1 L591.2 905.7 L592.9 908.2 L594.5 910.7 L596.1 913.3 L597.8 915.8 L599.4 918.3 L601.1 920.8 L602.7 923.4 L604.4 925.9 L606.1 928.4 L607.7 930.9 L609.4 933.4 L611.0 936.0 L612.7 938.5 L614.4 941.0 L616.1 943.5 L617.7 946.0 L619.4 948.5 L621.1 951.0 L622.8 953.5 L624.5 956.0 L626.2 958.5 L627.9 961.0 L629.6 963.5 L631.3 965.9 L633.0 968.4 L634.7 970.9 L636.4 973.4 L638.1 975.9 L639.8 978.3 L641.5 980.8 L643.2 983.3 L645.0 985.7 L646.7 988.2 L648.4 990.7 L650.2 993.1 L651.9 995.6 L653.7 998.0 L655.4 1000.5 L657.2 1002.9 L658.9 1005.4 L660.7 1007.8 L662.4 1010.2 L664.2 1012.7 L666.0 1015.1 L667.7 1017.5 L669.5 1020.0 L671.3 1022.4 L673.1 1024.8 L674.9 1027.2 L676.7 1029.6 L678.5 1032.0 L680.3 1034.4 L682.1 1036.8 L683.9 1039.2 L685.7 1041.6 L687.5 1044.0 L689.3 1046.4 L691.2 1048.8 L693.0 1051.2 L694.8 1053.5 L696.7 1055.9 L698.5 1058.3 L700.4 1060.7 L702.2 1063.0 L704.1 1065.4 L705.9 1067.7 L707.8 1070.1 L709.7 1072.4 L711.6 1074.7 L713.5 1077.0 L715.4 1079.3 L717.4 1081.5 L719.3 1083.8 L721.3 1086.0 L723.3 1088.2 L725.3 1090.4 L727.3 1092.5 L729.4 1094.7 L731.5 1096.8 L733.6 1098.8 L735.7 1100.9 L737.9 1102.9 L740.1 1104.8 L742.3 1106.7 L744.5 1108.6 L746.8 1110.5 L749.1 1112.3 L751.5 1114.0 L753.9 1115.8 L756.3 1117.4 L758.7 1119.1 L761.2 1120.6 L763.7 1122.2 L766.3 1123.7 L768.9 1125.2 L771.5 1126.6 L774.1 1128.0 L776.7 1129.3 L779.4 1130.6 L782.1 1131.9 L784.8 1133.2 L787.6 1134.4 L790.4 1135.6 L793.2 1136.7 L796.0 1137.8 L798.8 1138.9 L801.6 1140.0 L804.5 1141.0 L807.4 1142.0 L810.3 1143.0 L813.2 1143.9 L816.1 1144.9 L819.0 1145.8 L821.9 1146.7 L824.9 1147.5 L827.8 1148.3 L830.8 1149.2 L833.8 1149.9 L836.8 1150.7 L839.7 1151.5 L842.7 1152.2 L845.7 1152.9 L848.7 1153.6 L851.7 1154.3 L854.7 1155.0 L857.6 1155.7 L860.6 1156.3 L863.6 1156.9 L866.6 1157.6 L869.6 1158.2 L872.6 1158.8 L875.6 1159.3 L878.5 1159.9 L881.5 1160.4 L884.5 1161.0 L887.5 1161.5 L890.5 1162.0 L893.5 1162.5 L896.5 1163.0 L899.5 1163.5 L902.5 1164.0 L905.4 1164.4 L908.4 1164.8 L911.4 1165.3 L914.4 1165.7 L917.4 1166.1 L920.4 1166.5 L923.4 1166.9 L926.4 1167.3 L929.4 1167.6 L932.4 1168.0 L935.4 1168.3 L938.4 1168.7 L941.3 1169.0 L944.3 1169.3 L947.3 1169.6 L950.3 1169.9 L953.3 1170.2 L956.3 1170.5 L959.3 1170.7 L962.3 1171.0 L965.3 1171.3 L968.3 1171.5 L971.3 1171.8 L974.3 1172.0 L977.3 1172.2 L980.3 1172.4 L983.3 1172.6 L986.3 1172.8 L989.3 1173.0 L992.3 1173.2 L995.3 1173.4 L998.3 1173.6 L1001.3 1173.8 L1004.3 1173.9 L1007.3 1174.1 L1010.3 1174.3 L1013.3 1174.4 L1016.3 1174.5 L1019.3 1174.7 L1022.3 1174.8 L1025.3 1175.0 L1028.3 1175.1 L1031.3 1175.2 L1034.3 1175.3 L1037.3 1175.4 L1040.3 1175.5 L1043.3 1175.7 L1046.3 1175.8 L1049.3 1175.9 L1052.3 1176.0 L1055.3 1176.1 L1058.3 1176.1 L1061.3 1176.2 L1064.3 1176.3 L1067.3 1176.4 L1070.3 1176.5 L1073.3 1176.6 L1076.3 1176.7 L1079.3 1176.7 L1082.3 1176.8 L1085.3 1176.9 L1088.4 1177.0 L1091.4 1177.0 L1094.4 1177.1 L1097.4 1177.2 L1100.4 1177.3 L1103.4 1177.3 L1106.4 1177.4 L1109.4 1177.5 L1112.4 1177.6 L1115.4 1177.6 L1118.5 1177.7 L1121.5 1177.8 L1124.5 1177.9 L1127.5 1178.0 L1130.5 1178.1 L1133.5 1178.1 L1136.5 1178.2 L1139.6 1178.3 L1142.6 1178.4 L1145.6 1178.5 L1148.6 1178.6" fill="none" stroke="#e31e25" stroke-width="11.5" stroke-linecap="butt" stroke-linejoin="round"/>
<path d="M373.2 516.3 L375.1 518.3 L376.9 520.3 L378.8 522.3 L380.6 524.3 L382.4 526.4 L384.2 528.5 L386.0 530.6 L387.8 532.7 L389.6 534.8 L391.4 536.9 L393.2 539.1 L395.0 541.2 L396.7 543.4 L398.5 545.6 L400.2 547.8 L402.0 550.0 L403.7 552.3 L405.5 554.5 L407.2 556.8 L408.9 559.1 L410.6 561.4 L412.3 563.7 L414.0 566.0 L415.7 568.3 L417.4 570.7 L419.1 573.0 L420.7 575.4 L422.4 577.8 L424.1 580.2 L425.7 582.6 L427.4 585.0 L429.0 587.4 L430.7 589.8 L432.3 592.3 L433.9 594.7 L435.6 597.2 L437.2 599.7 L438.8 602.2 L440.4 604.7 L442.0 607.2 L443.7 609.7 L445.3 612.2 L446.9 614.8 L448.5 617.3 L450.1 619.9 L451.6 622.4 L453.2 625.0 L454.8 627.6 L456.4 630.2 L458.0 632.7 L459.6 635.3 L461.1 638.0 L462.7 640.6 L464.3 643.2 L465.8 645.8 L467.4 648.4 L469.0 651.1 L470.5 653.7 L472.1 656.4 L473.7 659.0 L475.2 661.7 L476.8 664.4 L478.3 667.0 L479.9 669.7 L481.4 672.4 L483.0 675.1 L484.5 677.8 L486.1 680.5 L487.6 683.2 L489.2 685.9 L490.7 688.6 L492.3 691.3 L493.8 694.0 L495.4 696.7 L496.9 699.4 L498.5 702.1 L500.0 704.9 L501.6 707.6 L503.1 710.3 L504.7 713.0 L506.2 715.8 L507.8 718.5 L509.4 721.2 L510.9 723.9 L512.5 726.7 L514.0 729.4 L515.6 732.1 L517.2 734.9 L518.7 737.6 L520.3 740.3 L521.9 743.0 L523.4 745.8 L525.0 748.5 L526.6 751.2 L528.2 753.9 L529.8 756.7 L531.4 759.4 L532.9 762.1 L534.5 764.8 L536.1 767.5 L537.7 770.2 L539.3 773.0 L540.9 775.7 L542.6 778.4 L544.2 781.1 L545.8 783.8 L547.4 786.4 L549.0 789.1 L550.7 791.8 L552.3 794.5 L554.0 797.2 L555.6 799.8 L557.3 802.5 L558.9 805.1 L560.6 807.8 L562.2 810.4 L563.9 813.1 L565.6 815.7 L567.3 818.3 L569.0 821.0 L570.7 823.6 L572.4 826.2 L574.1 828.8 L575.8 831.4 L577.5 834.0 L579.2 836.5 L581.0 839.1 L582.7 841.7 L584.5 844.2 L586.2 846.8 L588.0 849.3 L589.7 851.8 L591.5 854.4 L593.3 856.9 L595.1 859.4 L596.9 861.9 L598.7 864.3 L600.5 866.8 L602.3 869.3 L604.2 871.7 L606.0 874.1 L607.9 876.6 L609.7 879.0 L611.6 881.4 L613.5 883.8 L615.3 886.2 L617.2 888.5 L619.1 890.9 L621.1 893.2 L623.0 895.6 L624.9 897.9 L626.8 900.2 L628.8 902.5 L630.8 904.8 L632.7 907.0 L634.7 909.3 L636.7 911.5 L638.7 913.8 L640.7 916.0 L642.7 918.2 L644.8 920.3 L646.8 922.5 L648.9 924.7 L650.9 926.8 L653.0 928.9 L655.1 931.0 L657.2 933.1 L659.3 935.2 L661.4 937.2 L663.6 939.3 L665.7 941.3 L667.9 943.3 L670.1 945.3 L672.3 947.3 L674.4 949.2 L676.7 951.1 L678.9 953.1 L681.1 955.0 L683.4 956.8 L685.6 958.7 L687.9 960.5 L690.2 962.4 L692.5 964.2 L694.8 966.0 L697.1 967.7 L699.5 969.5 L701.9 971.2 L704.2 972.9 L706.6 974.6 L709.0 976.3 L711.4 977.9 L713.9 979.5 L716.3 981.1 L718.8 982.7 L721.2 984.3 L723.7 985.8 L726.2 987.3 L728.8 988.8 L731.3 990.3 L733.8 991.7 L736.4 993.2 L739.0 994.6 L741.6 996.0 L744.2 997.3 L746.8 998.7 L749.4 1000.0 L752.1 1001.3 L754.8 1002.5 L757.4 1003.8 L760.1 1005.0 L762.8 1006.2 L765.5 1007.4 L768.3 1008.6 L771.0 1009.8 L773.7 1010.9 L776.5 1012.0 L779.3 1013.1 L782.0 1014.1 L784.8 1015.2 L787.6 1016.2 L790.5 1017.2 L793.3 1018.2 L796.1 1019.2 L798.9 1020.1 L801.8 1021.0 L804.7 1021.9 L807.5 1022.8 L810.4 1023.7 L813.3 1024.5 L816.2 1025.3 L819.1 1026.1 L822.0 1026.9 L824.9 1027.7 L827.9 1028.4 L830.8 1029.1 L833.7 1029.8 L836.7 1030.5 L839.7 1031.2 L842.6 1031.8 L845.6 1032.5 L848.6 1033.1 L851.5 1033.6 L854.5 1034.2 L857.5 1034.8 L860.5 1035.3 L863.5 1035.8 L866.5 1036.3 L869.5 1036.8 L872.6 1037.2 L875.6 1037.7 L878.6 1038.1 L881.6 1038.5 L884.7 1038.9 L887.7 1039.2 L890.8 1039.6 L893.8 1039.9 L896.9 1040.3 L899.9 1040.6 L903.0 1040.9 L906.0 1041.1 L909.1 1041.4 L912.2 1041.7 L915.2 1041.9 L918.3 1042.1 L921.4 1042.3 L924.5 1042.5 L927.5 1042.7 L930.6 1042.9 L933.7 1043.1 L936.8 1043.2 L939.9 1043.4 L943.0 1043.5 L946.0 1043.6 L949.1 1043.7 L952.2 1043.8 L955.3 1043.9 L958.4 1044.0 L961.5 1044.1 L964.6 1044.2 L967.7 1044.2 L970.8 1044.3 L973.9 1044.3 L977.0 1044.3 L980.1 1044.4 L983.2 1044.4 L986.3 1044.4 L989.4 1044.4 L992.5 1044.4 L995.6 1044.4 L998.6 1044.4 L1001.7 1044.4 L1004.8 1044.4 L1007.9 1044.4 L1011.0 1044.4 L1014.1 1044.3 L1017.2 1044.3 L1020.3 1044.3 L1023.3 1044.2 L1026.4 1044.2 L1029.5 1044.2 L1032.6 1044.1 L1035.6 1044.1 L1038.7 1044.0 L1041.8 1044.0 L1044.8 1044.0 L1047.9 1043.9 L1050.9 1043.9 L1054.0 1043.8 L1057.0 1043.8 L1060.1 1043.8 L1063.1 1043.7 L1066.2 1043.7 L1069.2 1043.7 L1072.2 1043.6 L1075.2 1043.6 L1078.3 1043.6 L1081.3 1043.6 L1084.3 1043.5 L1087.3 1043.5 L1090.3 1043.5 L1093.3 1043.5 L1096.3 1043.5 L1099.2 1043.5 L1102.2 1043.5 L1105.2 1043.6 L1108.2 1043.6 L1111.1 1043.6 L1114.1 1043.7 L1117.0 1043.7 L1120.0 1043.8 L1122.9 1043.8 L1125.8 1043.9 L1128.7 1044.0 L1131.7 1044.1 L1134.6 1044.2 L1137.5 1044.3 L1140.4 1044.4 L1143.2 1044.5 L1146.1 1044.6 L1149.0 1044.8 L1151.8 1044.9 L1154.7 1045.1 L1157.5 1045.3 L1160.4 1045.5 L1163.2 1045.7" fill="none" stroke="#e31e25" stroke-width="11.5" stroke-linecap="butt" stroke-linejoin="round"/>
<path d="M825.9 805.1 L825.2 807.9 L824.6 810.8 L824.0 813.8 L823.5 816.7 L823.0 819.7 L822.7 822.8 L822.4 825.8 L822.1 828.9 L822.0 832.0 L821.9 835.1 L821.8 838.3 L821.8 841.4 L821.9 844.6 L822.1 847.7 L822.3 850.9 L822.6 854.1 L823.0 857.2 L823.4 860.4 L823.9 863.5 L824.5 866.6 L825.1 869.8 L825.8 872.8 L826.5 875.9 L827.4 879.0 L828.3 882.0 L829.2 884.9 L830.2 887.9 L831.3 890.8 L832.5 893.7 L833.7 896.5 L835.0 899.3 L836.3 902.0 L837.7 904.7 L839.2 907.3 L840.7 909.8 L842.3 912.3 L844.0 914.8 L845.7 917.1 L847.4 919.5 L849.3 921.7 L851.1 923.9 L853.1 926.0 L855.0 928.1 L857.1 930.0 L859.1 931.9 L861.3 933.8 L863.4 935.5 L865.7 937.2 L867.9 938.8 L870.2 940.3 L872.6 941.8 L874.9 943.2 L877.4 944.6 L879.8 945.9 L882.3 947.1 L884.9 948.2 L887.5 949.4 L890.1 950.4 L892.7 951.4 L895.4 952.3 L898.1 953.2 L900.8 954.0 L903.6 954.8 L906.4 955.5 L909.2 956.2 L912.1 956.8 L915.0 957.4 L917.9 958.0 L920.8 958.5 L923.7 958.9 L926.7 959.3 L929.7 959.7 L932.7 960.1 L935.7 960.4 L938.8 960.6 L941.8 960.9 L944.9 961.1 L948.0 961.2 L951.1 961.4 L954.2 961.5 L957.3 961.6 L960.4 961.6 L963.5 961.7 L966.7 961.7 L969.8 961.7 L973.0 961.6 L976.1 961.6 L979.3 961.5 L982.5 961.4 L985.6 961.3 L988.8 961.2 L991.9 961.1 L995.1 960.9 L998.3 960.8 L1001.4 960.6 L1004.5 960.4 L1007.7 960.3 L1010.8 960.1 L1013.9 959.9 L1017.1 959.7 L1020.2 959.5 L1023.3 959.3 L1026.4 959.1 L1029.5 958.9 L1032.6 958.6 L1035.6 958.4 L1038.7 958.2 L1041.8 957.9 L1044.9 957.7 L1047.9 957.4 L1051.0 957.2 L1054.0 956.9 L1057.1 956.6 L1060.1 956.3 L1063.2 956.0 L1066.2 955.7 L1069.2 955.5 L1072.3 955.1 L1075.3 954.8 L1078.3 954.5 L1081.3 954.2 L1084.3 953.9 L1087.3 953.6 L1090.3 953.2 L1093.3 952.9 L1096.3 952.5 L1099.3 952.2 L1102.3 951.8 L1105.3 951.5 L1108.3 951.1 L1111.3 950.8 L1114.2 950.4 L1117.2 950.0 L1120.2 949.6 L1123.2 949.2 L1126.1 948.9 L1129.1 948.5 L1132.0 948.1 L1135.0 947.7 L1137.9 947.3 L1140.9 946.9 L1143.8 946.5 L1146.8 946.0 L1149.7 945.6 L1152.7 945.2 L1155.6 944.8 L1158.6 944.3 L1161.5 943.9 L1164.4 943.5 L1167.4 943.0 L1170.3 942.6 L1173.3 942.2 L1176.2 941.7 L1179.1 941.3 L1182.0 940.8 L1185.0 940.3 L1187.9 939.9 L1190.8 939.4 L1193.8 939.0 L1196.7 938.5 L1199.6 938.0 L1202.5 937.6 L1205.5 937.1 L1208.4 936.6 L1211.3 936.1 L1214.2 935.6 L1217.2 935.2 L1220.1 934.7 L1223.0 934.2 L1225.9 933.7 L1228.9 933.2 L1231.8 932.7 L1234.7 932.2 L1237.6 931.7 L1240.6 931.2 L1243.5 930.8 L1246.4 930.3 L1249.4 929.8 L1252.3 929.3 L1255.2 928.8 L1258.2 928.3 L1261.1 927.7 L1264.0 927.2 L1267.0 926.7 L1269.9 926.2 L1272.9 925.7 L1275.8 925.2 L1278.8 924.7 L1281.7 924.2 L1284.7 923.7 L1287.6 923.2 L1290.6 922.7 L1293.5 922.2 L1296.5 921.7 L1299.5 921.2 L1302.4 920.6 L1305.4 920.1 L1308.4 919.6 L1311.3 919.1 L1314.3 918.6 L1317.3 918.1 L1320.3 917.6 L1323.3 917.1 L1326.3 916.6 L1329.2 916.1 L1332.2 915.6 L1335.2 915.1 L1338.3 914.6 L1341.3 914.1 L1344.3 913.6 L1347.3 913.1 L1350.3 912.6 L1353.3 912.1 L1356.4 911.6 L1359.4 911.1 L1362.4 910.6 L1365.5 910.1 L1368.5 909.6 L1371.6 909.1 L1374.6 908.6 L1377.7 908.1 L1380.8 907.6 L1383.8 907.2 L1386.9 906.7 L1390.0 906.2" fill="none" stroke="#e31e25" stroke-width="11.5" stroke-linecap="butt" stroke-linejoin="round"/>
<path d="M520.0 1061.3 L523.8 1060.2 L527.5 1059.4 L531.1 1059.1 L534.5 1059.2 L537.8 1059.5 L541.0 1060.2 L543.9 1061.2 L546.7 1062.4 L549.3 1063.9 L551.6 1065.6 L553.7 1067.4 L555.6 1069.4 L557.3 1071.6 L558.6 1073.8 L559.7 1076.1 L560.5 1078.5 L561.0 1080.9 L561.3 1083.4 L561.4 1085.9 L561.3 1088.4 L561.0 1091.1 L560.5 1093.7 L559.8 1096.4 L559.0 1099.1 L558.1 1101.8 L557.0 1104.6 L555.9 1107.3 L554.6 1110.1 L553.3 1112.9 L552.0 1115.7 L550.6 1118.5 L549.1 1121.3 L547.7 1124.0 L546.3 1126.8 L544.8 1129.6 L543.4 1132.3 L541.9 1135.1 L540.5 1137.8 L539.0 1140.5 L537.5 1143.2 L536.0 1145.9 L534.5 1148.6 L533.0 1151.3 L531.5 1154.0 L530.0 1156.7 L528.5 1159.4 L526.9 1162.0 L525.4 1164.7 L523.8 1167.4 L522.3 1170.0 L520.7 1172.6 L519.1 1175.3 L517.5 1177.9 L516.0 1180.5 L514.4 1183.1 L512.8 1185.7 L511.2 1188.3 L509.5 1190.9 L507.9 1193.5 L506.3 1196.1 L504.7 1198.6 L503.0 1201.2 L501.4 1203.8 L499.7 1206.3 L498.1 1208.9 L496.4 1211.4 L494.7 1213.9 L493.1 1216.5 L491.4 1219.0 L489.7 1221.5 L488.0 1224.0 L486.3 1226.5 L484.6 1229.1 L482.9 1231.6 L481.2 1234.1 L479.5 1236.5 L477.7 1239.0 L476.0 1241.5 L474.3 1244.0 L472.5 1246.5 L470.8 1248.9 L469.0 1251.4 L467.3 1253.8 L465.5 1256.3 L463.8 1258.8 L462.0 1261.2 L460.2 1263.6 L458.5 1266.1 L456.7 1268.5 L454.9 1270.9 L453.1 1273.4 L451.3 1275.8 L449.5 1278.2 L447.7 1280.6 L445.9 1283.1 L444.1 1285.5 L442.3 1287.9 L440.5 1290.3 L438.7 1292.7 L436.9 1295.1 L435.1 1297.5 L433.2 1299.9 L431.4 1302.3 L429.6 1304.7 L427.8 1307.0 L425.9 1309.4 L424.1 1311.8 L422.2 1314.2 L420.4 1316.6 L418.6 1318.9 L416.7 1321.3 L414.9 1323.7 L413.0 1326.1 L411.2 1328.4 L409.3 1330.8 L407.5 1333.2 L405.6 1335.5 L403.7 1337.9 L401.9 1340.2 L400.0 1342.6 L398.2 1345.0 L396.3 1347.3 L394.4 1349.7 L392.6 1352.0 L390.7 1354.4 L388.8 1356.8 L387.0 1359.1 L385.1 1361.5 L383.2 1363.8 L381.3 1366.2 L379.5 1368.5 L377.6 1370.9 L375.7 1373.2 L373.8 1375.6 L372.0 1377.9 L370.1 1380.3 L368.2 1382.7 L366.4 1385.0 L364.5 1387.4 L362.6 1389.7 L360.7 1392.1 L358.9 1394.4 L357.0 1396.8 L355.1 1399.2 L353.2 1401.5 L351.4 1403.9 L349.5 1406.2 L347.6 1408.6 L345.8 1411.0 L343.9 1413.3 L342.0 1415.7 L340.2 1418.1 L338.3 1420.4 L336.4 1422.8 L334.6 1425.2 L332.7 1427.6 L330.9 1429.9 L329.0 1432.3 L327.2 1434.7 L325.3 1437.1 L323.5 1439.5 L321.6 1441.9 L319.8 1444.3 L317.9 1446.7 L316.1 1449.1 L314.2 1451.5 L312.4 1453.9 L310.6 1456.3 L308.7 1458.7 L306.9 1461.1 L305.1 1463.5 L303.3 1465.9 L301.4 1468.3 L299.6 1470.8 L297.8 1473.2 L296.0 1475.6 L294.2 1478.1 L292.4 1480.5 L290.6 1482.9 L288.8 1485.4 L287.0 1487.8 L285.2 1490.3 L283.4 1492.8 L281.6 1495.2 L279.9 1497.7 L278.1 1500.2 L276.3 1502.6 L274.6 1505.1 L272.8 1507.6 L271.0 1510.1 L269.3 1512.6 L267.5 1515.1 L265.8 1517.6" fill="none" stroke="#0d4268" stroke-width="11.5" stroke-linecap="butt" stroke-linejoin="round"/>
<path d="M792.4 802.6 L791.8 805.5 L791.1 808.5 L790.4 811.4 L789.6 814.3 L788.9 817.2 L788.1 820.1 L787.3 823.0 L786.4 825.8 L785.6 828.7 L784.7 831.5 L783.8 834.3 L782.8 837.1 L781.8 840.0 L780.8 842.8 L779.8 845.5 L778.8 848.3 L777.7 851.1 L776.6 853.8 L775.5 856.6 L774.4 859.3 L773.2 862.0 L772.0 864.8 L770.8 867.5 L769.6 870.2 L768.4 872.9 L767.1 875.5 L765.8 878.2 L764.5 880.9 L763.2 883.5 L761.8 886.2 L760.5 888.8 L759.1 891.4 L757.7 894.1 L756.3 896.7 L754.9 899.3 L753.4 901.9 L752.0 904.5 L750.5 907.1 L749.0 909.6 L747.5 912.2 L745.9 914.8 L744.4 917.3 L742.8 919.9 L741.3 922.4 L739.7 925.0 L738.1 927.5 L736.5 930.0 L734.8 932.6 L733.2 935.1 L731.5 937.6 L729.9 940.1 L728.2 942.6 L726.5 945.1 L724.8 947.6 L723.1 950.1 L721.4 952.6 L719.7 955.1 L717.9 957.5 L716.2 960.0 L714.4 962.5 L712.7 964.9 L710.9 967.4 L709.1 969.8 L707.3 972.3 L705.5 974.7 L703.7 977.2 L701.9 979.6 L700.1 982.1 L698.3 984.5 L696.5 987.0 L694.6 989.4 L692.8 991.8 L691.0 994.2 L689.1 996.7 L687.3 999.1 L685.4 1001.5 L683.6 1003.9 L681.7 1006.4 L679.9 1008.8 L678.0 1011.2 L676.1 1013.6 L674.3 1016.0 L672.4 1018.5 L670.6 1020.9 L668.7 1023.3 L666.8 1025.7 L665.0 1028.1 L663.1 1030.5 L661.3 1032.9 L659.4 1035.4 L657.5 1037.8 L655.7 1040.2 L653.8 1042.6 L652.0 1045.0 L650.1 1047.4 L648.3 1049.9 L646.4 1052.3 L644.6 1054.7 L642.7 1057.1 L640.9 1059.5 L639.1 1062.0 L637.2 1064.4 L635.4 1066.8 L633.6 1069.2 L631.7 1071.7 L629.9 1074.1 L628.1 1076.5 L626.2 1078.9 L624.4 1081.4 L622.6 1083.8 L620.8 1086.2 L618.9 1088.6 L617.1 1091.1 L615.3 1093.5 L613.5 1095.9 L611.7 1098.4 L609.9 1100.8 L608.1 1103.2 L606.2 1105.6 L604.4 1108.1 L602.6 1110.5 L600.8 1112.9 L599.0 1115.4 L597.2 1117.8 L595.4 1120.2 L593.6 1122.7 L591.8 1125.1 L590.0 1127.5 L588.2 1130.0 L586.4 1132.4 L584.6 1134.8 L582.8 1137.3 L581.0 1139.7 L579.2 1142.1 L577.4 1144.6 L575.7 1147.0 L573.9 1149.4 L572.1 1151.9 L570.3 1154.3 L568.5 1156.8 L566.7 1159.2 L564.9 1161.6 L563.2 1164.1 L561.4 1166.5 L559.6 1168.9 L557.8 1171.4 L556.0 1173.8 L554.3 1176.3 L552.5 1178.7 L550.7 1181.1 L548.9 1183.6 L547.2 1186.0 L545.4 1188.5 L543.6 1190.9 L541.9 1193.4 L540.1 1195.8 L538.3 1198.2 L536.5 1200.7 L534.8 1203.1 L533.0 1205.6 L531.2 1208.0 L529.5 1210.5 L527.7 1212.9 L525.9 1215.3 L524.2 1217.8 L522.4 1220.2 L520.7 1222.7 L518.9 1225.1 L517.1 1227.6 L515.4 1230.0 L513.6 1232.5 L511.8 1234.9 L510.1 1237.3 L508.3 1239.8 L506.6 1242.2 L504.8 1244.7 L503.1 1247.1 L501.3 1249.6 L499.5 1252.0 L497.8 1254.5 L496.0 1256.9 L494.3 1259.4 L492.5 1261.8 L490.8 1264.3 L489.0 1266.7 L487.3 1269.2 L485.5 1271.6 L483.7 1274.1 L482.0 1276.5 L480.2 1278.9 L478.5 1281.4 L476.7 1283.8 L475.0 1286.3 L473.2 1288.7 L471.5 1291.2 L469.7 1293.6 L468.0 1296.1 L466.2 1298.5 L464.5 1301.0 L462.7 1303.4 L461.0 1305.9 L459.2 1308.3 L457.5 1310.8 L455.7 1313.2 L453.9 1315.7 L452.2 1318.1 L450.4 1320.6 L448.7 1323.0 L446.9 1325.5 L445.2 1327.9 L443.4 1330.4 L441.7 1332.8 L439.9 1335.3 L438.2 1337.7 L436.4 1340.2 L434.7 1342.6 L432.9 1345.1 L431.2 1347.5 L429.4 1350.0 L427.6 1352.4 L425.9 1354.9 L424.1 1357.3 L422.4 1359.8 L420.6 1362.2 L418.9 1364.7 L417.1 1367.1 L415.3 1369.6 L413.6 1372.0 L411.8 1374.5 L410.1 1376.9 L408.3 1379.4 L406.5 1381.8 L404.8 1384.3 L403.0 1386.7 L401.3 1389.2 L399.5 1391.6 L397.7 1394.1 L396.0 1396.5 L394.2 1399.0 L392.4 1401.4 L390.7 1403.9 L388.9 1406.3 L387.1 1408.7 L385.4 1411.2 L383.6 1413.6 L381.8 1416.1 L380.1 1418.5 L378.3 1421.0 L376.5 1423.4 L374.8 1425.9 L373.0 1428.3 L371.2 1430.8 L369.4 1433.2 L367.7 1435.7 L365.9 1438.1 L364.1 1440.6 L362.3 1443.0 L360.5 1445.4 L358.8 1447.9 L357.0 1450.3 L355.2 1452.8 L353.4 1455.2 L351.6 1457.7 L349.8 1460.1 L348.1 1462.6 L346.3 1465.0 L344.5 1467.4 L342.7 1469.9 L340.9 1472.3 L339.1 1474.8 L337.3 1477.2 L335.5 1479.7 L333.7 1482.1 L331.9 1484.5 L330.1 1487.0 L328.3 1489.4 L326.5 1491.9 L324.7 1494.3 L322.9 1496.7 L321.1 1499.2 L319.3 1501.6 L317.5 1504.1 L315.7 1506.5" fill="none" stroke="#0d4268" stroke-width="11.5" stroke-linecap="butt" stroke-linejoin="round"/>
<path d="M1148.6 1078.7 L1145.7 1078.4 L1142.7 1078.2 L1139.8 1077.9 L1136.9 1077.6 L1133.9 1077.4 L1131.0 1077.1 L1128.0 1076.9 L1125.1 1076.7 L1122.1 1076.5 L1119.1 1076.2 L1116.2 1076.0 L1113.2 1075.8 L1110.2 1075.6 L1107.2 1075.4 L1104.3 1075.3 L1101.3 1075.1 L1098.3 1074.9 L1095.3 1074.7 L1092.3 1074.6 L1089.3 1074.4 L1086.3 1074.3 L1083.3 1074.2 L1080.3 1074.0 L1077.3 1073.9 L1074.3 1073.8 L1071.3 1073.7 L1068.3 1073.6 L1065.2 1073.5 L1062.2 1073.4 L1059.2 1073.3 L1056.2 1073.3 L1053.1 1073.2 L1050.1 1073.2 L1047.1 1073.1 L1044.1 1073.1 L1041.0 1073.1 L1038.0 1073.0 L1035.0 1073.0 L1031.9 1073.0 L1028.9 1073.0 L1025.8 1073.0 L1022.8 1073.1 L1019.7 1073.1 L1016.7 1073.1 L1013.7 1073.2 L1010.6 1073.2 L1007.6 1073.3 L1004.5 1073.3 L1001.5 1073.4 L998.4 1073.5 L995.4 1073.6 L992.3 1073.7 L989.3 1073.8 L986.2 1073.9 L983.2 1074.1 L980.1 1074.2 L977.1 1074.4 L974.0 1074.5 L971.0 1074.7 L967.9 1074.9 L964.9 1075.1 L961.8 1075.2 L958.8 1075.4 L955.7 1075.7 L952.7 1075.9 L949.6 1076.1 L946.6 1076.4 L943.5 1076.6 L940.5 1076.9 L937.4 1077.1 L934.4 1077.4 L931.3 1077.7 L928.3 1078.0 L925.3 1078.3 L922.2 1078.6 L919.2 1078.9 L916.1 1079.3 L913.1 1079.6 L910.1 1080.0 L907.0 1080.4 L904.0 1080.7 L901.0 1081.1 L898.0 1081.5 L894.9 1081.9 L891.9 1082.3 L888.9 1082.8 L885.9 1083.2 L882.9 1083.7 L879.8 1084.1 L876.8 1084.6 L873.8 1085.1 L870.8 1085.6 L867.8 1086.1 L864.8 1086.6 L861.8 1087.1 L858.8 1087.7 L855.8 1088.2 L852.9 1088.8 L849.9 1089.3 L846.9 1089.9 L843.9 1090.5 L840.9 1091.1 L838.0 1091.7 L835.0 1092.3 L832.0 1093.0 L829.1 1093.6 L826.1 1094.3 L823.2 1094.9 L820.2 1095.6 L817.3 1096.3 L814.4 1097.0 L811.4 1097.7 L808.5 1098.5 L805.6 1099.2 L802.6 1100.0 L799.7 1100.7 L796.8 1101.5 L793.9 1102.3 L791.0 1103.1 L788.1 1103.9 L785.2 1104.7 L782.3 1105.5 L779.4 1106.4 L776.6 1107.3 L773.7 1108.1 L770.8 1109.0 L768.0 1109.9 L765.1 1110.8 L762.3 1111.7 L759.4 1112.7 L756.6 1113.6 L753.7 1114.6 L750.9 1115.6 L748.1 1116.5 L745.3 1117.5 L742.5 1118.5 L739.7 1119.6 L736.9 1120.6 L734.1 1121.7 L731.3 1122.7 L728.5 1123.8 L725.7 1124.9 L723.0 1126.0 L720.2 1127.1 L717.5 1128.2 L714.7 1129.4 L712.0 1130.5 L709.2 1131.7 L706.5 1132.9 L703.8 1134.1 L701.1 1135.3 L698.4 1136.5 L695.7 1137.7 L693.0 1139.0 L690.3 1140.3 L687.7 1141.5 L685.0 1142.8 L682.4 1144.1 L679.7 1145.5 L677.1 1146.8 L674.4 1148.1 L671.8 1149.5 L669.2 1150.9 L666.6 1152.3 L664.0 1153.7 L661.4 1155.1 L658.8 1156.5 L656.2 1158.0 L653.7 1159.4 L651.1 1160.9 L648.6 1162.4 L646.0 1163.9 L643.5 1165.4 L641.0 1167.0 L638.5 1168.5 L636.0 1170.1 L633.5 1171.7 L631.0 1173.3 L628.5 1174.9 L626.1 1176.5 L623.6 1178.1 L621.2 1179.8 L618.7 1181.5 L616.3 1183.2 L613.9 1184.9 L611.5 1186.6 L609.1 1188.3 L606.7 1190.1 L604.3 1191.8 L602.0 1193.6 L599.6 1195.4 L597.3 1197.2 L595.0 1199.0 L592.6 1200.9 L590.3 1202.7 L588.0 1204.6 L585.7 1206.5 L583.4 1208.4 L581.2 1210.3 L578.9 1212.2 L576.6 1214.1 L574.4 1216.1 L572.1 1218.0 L569.9 1220.0 L567.7 1222.0 L565.5 1224.0 L563.3 1226.0 L561.1 1228.0 L558.9 1230.1 L556.7 1232.1 L554.5 1234.2 L552.4 1236.3 L550.2 1238.3 L548.1 1240.4 L545.9 1242.5 L543.8 1244.7 L541.7 1246.8 L539.6 1248.9 L537.5 1251.1 L535.4 1253.2 L533.3 1255.4 L531.2 1257.6 L529.1 1259.8 L527.0 1262.0 L525.0 1264.2 L522.9 1266.4 L520.9 1268.6 L518.8 1270.9 L516.8 1273.1 L514.8 1275.4 L512.7 1277.6 L510.7 1279.9 L508.7 1282.2 L506.7 1284.5 L504.7 1286.8 L502.7 1289.1 L500.7 1291.4 L498.7 1293.7 L496.8 1296.0 L494.8 1298.4 L492.8 1300.7 L490.9 1303.1 L488.9 1305.4 L487.0 1307.8 L485.1 1310.1 L483.1 1312.5 L481.2 1314.9 L479.3 1317.3 L477.4 1319.7 L475.4 1322.1 L473.5 1324.5 L471.6 1326.9 L469.7 1329.3 L467.8 1331.7 L466.0 1334.1 L464.1 1336.6 L462.2 1339.0 L460.3 1341.4 L458.4 1343.9 L456.6 1346.3 L454.7 1348.7 L452.8 1351.2 L451.0 1353.6 L449.1 1356.1 L447.3 1358.6 L445.4 1361.0 L443.6 1363.5 L441.8 1366.0 L439.9 1368.4 L438.1 1370.9 L436.3 1373.4 L434.5 1375.8 L432.6 1378.3 L430.8 1380.8 L429.0 1383.3 L427.2 1385.8 L425.4 1388.3 L423.6 1390.7 L421.8 1393.2 L420.0 1395.7 L418.2 1398.2 L416.4 1400.7 L414.6 1403.2 L412.8 1405.6 L411.0 1408.1 L409.2 1410.6 L407.4 1413.1 L405.6 1415.6 L403.8 1418.1 L402.0 1420.6 L400.3 1423.0 L398.5 1425.5 L396.7 1428.0 L394.9 1430.5 L393.1 1432.9 L391.4 1435.4 L389.6 1437.9 L387.8 1440.4 L386.1 1442.8 L384.3 1445.3 L382.5 1447.8 L380.7 1450.2 L379.0 1452.7 L377.2 1455.1 L375.4 1457.6 L373.7 1460.0 L371.9 1462.4 L370.1 1464.9 L368.3 1467.3 L366.6 1469.7 L364.8 1472.2 L363.0 1474.6 L361.3 1477.0 L359.5 1479.4 L357.7 1481.8 L356.0 1484.2 L354.2 1486.6 L352.4 1489.0 L350.6 1491.4 L348.9 1493.8 L347.1 1496.1 L345.3 1498.5 L343.5 1500.9 L341.7 1503.2 L340.0 1505.5 L338.2 1507.9 L336.4 1510.2 L334.6 1512.5 L332.8 1514.9 L331.0 1517.2 L329.2 1519.5 L327.4 1521.8 L325.6 1524.0 L323.8 1526.3 L322.0 1528.6 L320.2 1530.8 L318.4 1533.1 L316.6 1535.3 L314.8 1537.6 L313.0 1539.8" fill="none" stroke="#0d4268" stroke-width="11.5" stroke-linecap="butt" stroke-linejoin="round"/>
<path d="M1144.4 1208.0 L1141.4 1208.1 L1138.4 1208.2 L1135.4 1208.3 L1132.4 1208.3 L1129.4 1208.4 L1126.4 1208.5 L1123.4 1208.5 L1120.4 1208.6 L1117.4 1208.7 L1114.4 1208.7 L1111.4 1208.8 L1108.4 1208.8 L1105.4 1208.8 L1102.4 1208.9 L1099.4 1208.9 L1096.4 1208.9 L1093.4 1208.9 L1090.4 1208.9 L1087.4 1209.0 L1084.4 1209.0 L1081.4 1209.0 L1078.4 1209.0 L1075.4 1209.0 L1072.4 1209.0 L1069.4 1209.0 L1066.4 1209.0 L1063.4 1208.9 L1060.4 1208.9 L1057.4 1208.9 L1054.4 1208.9 L1051.4 1208.9 L1048.4 1208.8 L1045.4 1208.8 L1042.4 1208.8 L1039.3 1208.7 L1036.3 1208.7 L1033.3 1208.7 L1030.3 1208.6 L1027.3 1208.6 L1024.3 1208.6 L1021.3 1208.5 L1018.3 1208.5 L1015.3 1208.4 L1012.2 1208.4 L1009.2 1208.4 L1006.2 1208.3 L1003.2 1208.3 L1000.2 1208.2 L997.2 1208.2 L994.2 1208.1 L991.1 1208.1 L988.1 1208.0 L985.1 1208.0 L982.1 1207.9 L979.1 1207.9 L976.1 1207.8 L973.1 1207.8 L970.0 1207.7 L967.0 1207.7 L964.0 1207.7 L961.0 1207.6 L958.0 1207.6 L954.9 1207.5 L951.9 1207.5 L948.9 1207.5 L945.9 1207.4 L942.9 1207.4 L939.9 1207.3 L936.8 1207.3 L933.8 1207.3 L930.8 1207.3 L927.8 1207.2 L924.8 1207.2 L921.7 1207.2 L918.7 1207.2 L915.7 1207.1 L912.7 1207.1 L909.6 1207.1 L906.6 1207.1 L903.6 1207.1 L900.6 1207.1 L897.6 1207.1 L894.5 1207.1 L891.5 1207.1 L888.5 1207.1 L885.5 1207.1 L882.4 1207.1 L879.4 1207.2 L876.4 1207.2 L873.4 1207.2 L870.3 1207.2 L867.3 1207.3 L864.3 1207.3 L861.3 1207.4 L858.2 1207.4 L855.2 1207.5 L852.2 1207.5 L849.2 1207.6 L846.1 1207.7 L843.1 1207.7 L840.1 1207.8 L837.1 1207.9 L834.0 1208.0 L831.0 1208.1 L828.0 1208.2 L825.0 1208.3 L821.9 1208.4 L818.9 1208.5 L815.9 1208.6 L812.9 1208.8 L809.8 1208.9 L806.8 1209.0 L803.8 1209.2 L800.8 1209.3 L797.7 1209.5 L794.7 1209.7 L791.7 1209.8 L788.7 1210.0 L785.6 1210.2 L782.6 1210.4 L779.6 1210.6 L776.5 1210.8 L773.5 1211.0 L770.5 1211.3 L767.5 1211.5 L764.4 1211.7 L761.4 1212.0 L758.4 1212.2 L755.4 1212.5 L752.3 1212.8 L749.3 1213.1 L746.3 1213.4 L743.3 1213.7 L740.2 1214.0 L737.2 1214.3 L734.2 1214.6 L731.1 1214.9 L728.1 1215.3 L725.1 1215.6 L722.1 1216.0 L719.0 1216.4 L716.0 1216.7 L713.0 1217.1 L710.0 1217.5 L706.9 1217.9 L703.9 1218.4 L700.9 1218.8 L697.9 1219.3 L694.9 1219.7 L691.9 1220.2 L688.9 1220.7 L685.9 1221.2 L682.9 1221.7 L679.9 1222.2 L676.9 1222.8 L673.9 1223.4 L670.9 1223.9 L667.9 1224.5 L665.0 1225.2 L662.0 1225.8 L659.1 1226.5 L656.1 1227.1 L653.2 1227.8 L650.3 1228.6 L647.4 1229.3 L644.5 1230.1 L641.6 1230.8 L638.7 1231.6 L635.8 1232.5 L633.0 1233.3 L630.1 1234.2 L627.3 1235.1 L624.5 1236.0 L621.7 1237.0 L618.9 1238.0 L616.1 1239.0 L613.3 1240.0 L610.6 1241.1 L607.8 1242.2 L605.1 1243.3 L602.4 1244.5 L599.7 1245.6 L597.0 1246.8 L594.4 1248.1 L591.7 1249.4 L589.1 1250.7 L586.5 1252.0 L583.9 1253.4 L581.4 1254.8 L578.8 1256.2 L576.3 1257.7 L573.8 1259.2 L571.3 1260.7 L568.8 1262.3 L566.4 1263.9 L563.9 1265.5 L561.5 1267.1 L559.1 1268.8 L556.7 1270.5 L554.4 1272.2 L552.0 1274.0 L549.7 1275.8 L547.3 1277.6 L545.0 1279.4 L542.7 1281.3 L540.5 1283.2 L538.2 1285.1 L536.0 1287.0 L533.7 1288.9 L531.5 1290.9 L529.3 1292.9 L527.1 1294.9 L524.9 1297.0 L522.8 1299.0 L520.6 1301.1 L518.5 1303.2 L516.4 1305.3 L514.3 1307.5 L512.2 1309.6 L510.1 1311.8 L508.0 1314.0 L506.0 1316.2 L503.9 1318.4 L501.9 1320.7 L499.9 1322.9 L497.9 1325.2 L495.9 1327.4 L493.9 1329.7 L491.9 1332.0 L489.9 1334.4 L488.0 1336.7 L486.0 1339.0 L484.1 1341.4 L482.2 1343.8 L480.2 1346.1 L478.3 1348.5 L476.4 1350.9 L474.5 1353.3 L472.7 1355.7 L470.8 1358.1 L468.9 1360.5 L467.1 1363.0 L465.2 1365.4 L463.4 1367.8 L461.5 1370.3 L459.7 1372.7 L457.9 1375.2 L456.1 1377.7 L454.3 1380.1 L452.5 1382.6 L450.7 1385.1 L448.9 1387.6 L447.1 1390.1 L445.3 1392.6 L443.6 1395.0 L441.8 1397.5 L440.0 1400.0 L438.3 1402.5 L436.5 1405.0 L434.8 1407.6 L433.0 1410.1 L431.3 1412.6 L429.5 1415.1 L427.8 1417.6 L426.1 1420.1 L424.3 1422.6 L422.6 1425.1 L420.9 1427.7 L419.1 1430.2 L417.4 1432.7 L415.7 1435.2 L413.9 1437.7 L412.2 1440.2 L410.5 1442.7 L408.7 1445.2 L407.0 1447.7 L405.3 1450.2 L403.5 1452.7 L401.8 1455.2 L400.1 1457.7 L398.3 1460.2 L396.6 1462.7 L394.9 1465.2 L393.1 1467.6 L391.4 1470.1 L389.6 1472.6 L387.9 1475.1 L386.1 1477.5 L384.3 1480.0 L382.6 1482.4 L380.8 1484.8 L379.0 1487.3 L377.3 1489.7 L375.5 1492.1 L373.7 1494.5 L371.9 1497.0 L370.1 1499.3 L368.3 1501.7 L366.5 1504.1 L364.6 1506.5 L362.8 1508.9 L361.0 1511.2 L359.1 1513.6 L357.3 1515.9 L355.4 1518.2 L353.6 1520.5 L351.7 1522.9 L349.8 1525.1 L347.9 1527.4 L346.0 1529.7 L344.1 1532.0 L342.2 1534.2 L340.2 1536.5 L338.3 1538.7 L336.3 1540.9 L334.4 1543.1 L332.4 1545.3" fill="none" stroke="#0d4268" stroke-width="11.5" stroke-linecap="butt" stroke-linejoin="round"/>
<path d="M830.6 1348.0 L830.4 1345.1 L830.1 1342.1 L829.9 1339.1 L829.7 1336.2 L829.5 1333.2 L829.3 1330.2 L829.1 1327.2 L828.9 1324.2 L828.8 1321.1 L828.6 1318.1 L828.5 1315.1 L828.4 1312.0 L828.3 1309.0 L828.3 1306.0 L828.2 1302.9 L828.2 1299.8 L828.1 1296.8 L828.1 1293.7 L828.1 1290.6 L828.2 1287.6 L828.2 1284.5 L828.3 1281.4 L828.4 1278.4 L828.5 1275.3 L828.6 1272.2 L828.7 1269.1 L828.9 1266.0 L829.1 1263.0 L829.3 1259.9 L829.5 1256.8 L829.8 1253.8 L830.1 1250.7 L830.4 1247.6 L830.7 1244.6 L831.1 1241.5 L831.4 1238.5 L831.8 1235.4 L832.3 1232.4 L832.7 1229.4 L833.2 1226.3 L833.7 1223.3 L834.2 1220.3 L834.8 1217.3 L835.4 1214.3 L836.0 1211.3 L836.6 1208.4 L837.3 1205.4 L838.0 1202.5 L838.7 1199.5 L839.5 1196.6 L840.3 1193.7 L841.1 1190.8 L841.9 1187.9 L842.8 1185.0 L843.7 1182.1 L844.7 1179.3 L845.7 1176.4 L846.7 1173.6 L847.7 1170.8 L848.8 1168.0 L849.9 1165.2 L851.1 1162.5 L852.3 1159.7 L853.5 1157.0 L854.7 1154.3 L856.0 1151.6 L857.4 1148.9 L858.7 1146.3 L860.1 1143.6 L861.5 1141.0 L863.0 1138.4 L864.4 1135.8 L865.9 1133.2 L867.5 1130.7 L869.0 1128.2 L870.6 1125.6 L872.3 1123.1 L873.9 1120.7 L875.6 1118.2 L877.3 1115.8 L879.1 1113.4 L880.8 1111.0 L882.6 1108.6 L884.4 1106.2 L886.3 1103.9 L888.2 1101.5 L890.1 1099.2 L892.0 1097.0 L893.9 1094.7 L895.9 1092.4 L897.9 1090.2 L899.9 1088.0 L901.9 1085.8 L904.0 1083.7 L906.1 1081.5 L908.2 1079.4 L910.3 1077.3 L912.4 1075.2 L914.6 1073.2 L916.8 1071.1 L919.0 1069.1 L921.2 1067.1 L923.4 1065.1 L925.7 1063.2 L928.0 1061.2 L930.3 1059.3 L932.6 1057.4 L934.9 1055.5 L937.3 1053.7 L939.6 1051.9 L942.0 1050.1 L944.4 1048.3 L946.8 1046.5 L949.2 1044.8 L951.6 1043.1 L954.1 1041.4 L956.5 1039.7 L959.0 1038.1 L961.5 1036.4 L964.0 1034.8 L966.5 1033.2 L969.0 1031.7 L971.6 1030.1 L974.1 1028.6 L976.7 1027.1 L979.3 1025.6 L981.9 1024.2 L984.5 1022.7 L987.1 1021.3 L989.7 1019.9 L992.3 1018.5 L995.0 1017.1 L997.6 1015.8 L1000.3 1014.5 L1003.0 1013.2 L1005.7 1011.9 L1008.4 1010.6 L1011.1 1009.3 L1013.8 1008.1 L1016.5 1006.9 L1019.3 1005.7 L1022.0 1004.5 L1024.8 1003.3 L1027.5 1002.2 L1030.3 1001.0 L1033.1 999.9 L1035.9 998.8 L1038.7 997.7 L1041.5 996.7 L1044.3 995.6 L1047.2 994.6 L1050.0 993.6 L1052.9 992.5 L1055.7 991.6 L1058.6 990.6 L1061.4 989.6 L1064.3 988.7 L1067.2 987.7 L1070.1 986.8 L1073.0 985.9 L1075.9 985.0 L1078.8 984.1 L1081.7 983.2 L1084.7 982.4 L1087.6 981.5 L1090.5 980.7 L1093.5 979.9 L1096.4 979.1 L1099.4 978.3 L1102.4 977.5 L1105.3 976.7 L1108.3 976.0 L1111.3 975.2 L1114.3 974.5 L1117.2 973.8 L1120.2 973.1 L1123.2 972.4 L1126.2 971.7 L1129.2 971.0 L1132.2 970.3 L1135.3 969.6 L1138.3 969.0 L1141.3 968.3 L1144.3 967.7 L1147.3 967.1 L1150.4 966.5 L1153.4 965.8 L1156.4 965.2 L1159.5 964.6 L1162.5 964.1 L1165.6 963.5 L1168.6 962.9 L1171.7 962.3 L1174.7 961.8 L1177.8 961.2 L1180.8 960.7 L1183.9 960.2 L1186.9 959.6 L1190.0 959.1 L1193.0 958.6 L1196.1 958.1 L1199.2 957.6 L1202.2 957.1 L1205.3 956.6 L1208.3 956.1 L1211.4 955.6 L1214.5 955.1 L1217.5 954.6 L1220.6 954.2 L1223.6 953.7 L1226.7 953.2 L1229.8 952.8 L1232.8 952.3 L1235.9 951.9 L1238.9 951.4 L1242.0 951.0 L1245.0 950.5 L1248.1 950.1 L1251.1 949.6 L1254.2 949.2 L1257.2 948.8 L1260.3 948.3 L1263.3 947.9 L1266.3 947.5 L1269.4 947.0 L1272.4 946.6 L1275.4 946.2 L1278.4 945.8 L1281.5 945.3 L1284.5 944.9 L1287.5 944.5 L1290.5 944.0 L1293.5 943.6 L1296.5 943.2 L1299.5 942.8 L1302.5 942.3 L1305.5 941.9 L1308.5 941.5 L1311.5 941.0 L1314.4 940.6 L1317.4 940.2 L1320.4 939.7 L1323.3 939.3 L1326.3 938.9 L1329.2 938.4 L1332.1 938.0 L1335.1 937.5 L1338.0 937.1 L1340.9 936.6 L1343.8 936.1 L1346.8 935.7 L1349.7 935.2 L1352.5 934.7 L1355.4 934.2 L1358.3 933.8 L1361.2 933.3 L1364.0 932.8 L1366.9 932.3 L1369.7 931.8 L1372.6 931.3 L1375.4 930.8 L1378.2 930.2 L1381.1 929.7 L1383.9 929.2 L1386.7 928.7 L1389.4 928.1 L1392.2 927.6 L1395.0 927.0" fill="none" stroke="#0d4268" stroke-width="11.5" stroke-linecap="butt" stroke-linejoin="round"/>
<path d="M856.8 801.0 L855.8 803.9 L855.0 807.0 L854.4 810.2 L854.0 813.5 L853.8 816.9 L853.8 820.3 L854.0 823.7 L854.3 827.1 L854.9 830.5 L855.6 833.8 L856.5 837.0 L857.5 840.1 L858.7 843.1 L860.0 845.9 L861.4 848.5 L863.0 850.9 L864.7 853.0 L866.5 854.9 L868.4 856.4 L870.4 857.7 L872.5 858.6 L874.7 859.2 L877.0 859.6 L879.3 859.7 L881.8 859.5 L884.2 859.2 L886.8 858.6 L889.3 857.8 L892.0 856.8 L894.6 855.7 L897.3 854.5 L900.0 853.1 L902.7 851.6 L905.4 850.1 L908.1 848.4 L910.8 846.7 L913.5 845.0 L916.1 843.3 L918.8 841.5 L921.4 839.8 L924.0 838.0 L926.6 836.1 L929.1 834.3 L931.7 832.5 L934.2 830.6 L936.7 828.7 L939.2 826.9 L941.6 825.0 L944.1 823.0 L946.5 821.1 L948.9 819.1 L951.3 817.2 L953.7 815.2 L956.0 813.2 L958.4 811.2 L960.7 809.2 L963.0 807.2 L965.3 805.1 L967.5 803.1 L969.8 801.0 L972.0 798.9 L974.3 796.8 L976.5 794.7 L978.7 792.6 L980.9 790.5 L983.1 788.3 L985.2 786.2 L987.4 784.0 L989.5 781.9 L991.6 779.7 L993.8 777.5 L995.9 775.3 L997.9 773.1 L1000.0 770.9 L1002.1 768.7 L1004.2 766.5 L1006.2 764.2 L1008.3 762.0 L1010.3 759.7 L1012.3 757.5 L1014.3 755.2 L1016.3 752.9 L1018.3 750.7 L1020.3 748.4 L1022.3 746.1 L1024.3 743.8 L1026.3 741.5 L1028.3 739.2 L1030.2 736.9 L1032.2 734.6 L1034.1 732.3 L1036.1 729.9 L1038.0 727.6 L1039.9 725.3 L1041.9 722.9 L1043.8 720.6 L1045.7 718.3 L1047.7 715.9 L1049.6 713.6 L1051.5 711.2 L1053.4 708.9 L1055.3 706.5 L1057.2 704.2 L1059.2 701.9 L1061.1 699.5 L1063.0 697.1 L1064.9 694.8 L1066.8 692.4 L1068.7 690.1 L1070.6 687.7 L1072.5 685.4 L1074.5 683.0 L1076.4 680.7 L1078.3 678.4 L1080.2 676.0 L1082.1 673.7 L1084.1 671.3 L1086.0 669.0 L1087.9 666.7 L1089.9 664.3 L1091.8 662.0 L1093.8 659.7 L1095.7 657.4 L1097.7 655.1 L1099.6 652.7 L1101.6 650.4 L1103.6 648.1 L1105.6 645.8 L1107.5 643.6 L1109.5 641.3 L1111.5 639.0 L1113.6 636.7 L1115.6 634.5 L1117.6 632.2 L1119.6 629.9 L1121.7 627.7 L1123.7 625.5 L1125.8 623.2 L1127.9 621.0 L1130.0 618.8 L1132.1 616.6 L1134.2 614.4 L1136.3 612.2 L1138.4 610.0 L1140.6 607.9 L1142.7 605.7 L1144.9 603.6 L1147.1 601.4 L1149.2 599.3 L1151.5 597.2 L1153.7 595.1 L1155.9 593.0 L1158.2 590.9 L1160.4 588.8 L1162.7 586.8 L1165.0 584.7 L1167.3 582.7" fill="none" stroke="#76982c" stroke-width="11.5" stroke-linecap="butt" stroke-linejoin="round"/>
<path d="M865.2 1345.7 L865.6 1342.8 L866.0 1339.8 L866.4 1336.8 L866.8 1333.9 L867.2 1330.9 L867.5 1328.0 L867.9 1325.0 L868.3 1322.0 L868.7 1319.1 L869.0 1316.1 L869.4 1313.1 L869.8 1310.1 L870.2 1307.2 L870.5 1304.2 L870.9 1301.2 L871.3 1298.2 L871.6 1295.2 L872.0 1292.2 L872.3 1289.3 L872.7 1286.3 L873.1 1283.3 L873.4 1280.3 L873.8 1277.3 L874.2 1274.3 L874.5 1271.3 L874.9 1268.3 L875.2 1265.3 L875.6 1262.3 L876.0 1259.3 L876.3 1256.3 L876.7 1253.2 L877.0 1250.2 L877.4 1247.2 L877.8 1244.2 L878.1 1241.2 L878.5 1238.2 L878.9 1235.2 L879.3 1232.2 L879.6 1229.2 L880.0 1226.1 L880.4 1223.1 L880.8 1220.1 L881.1 1217.1 L881.5 1214.1 L881.9 1211.1 L882.3 1208.0 L882.7 1205.0 L883.1 1202.0 L883.5 1199.0 L883.9 1196.0 L884.3 1193.0 L884.7 1190.0 L885.1 1186.9 L885.5 1183.9 L886.0 1180.9 L886.4 1177.9 L886.8 1174.9 L887.2 1171.9 L887.7 1168.9 L888.1 1165.9 L888.6 1162.9 L889.0 1159.8 L889.5 1156.8 L889.9 1153.8 L890.4 1150.8 L890.9 1147.8 L891.3 1144.8 L891.8 1141.8 L892.3 1138.8 L892.8 1135.8 L893.3 1132.8 L893.8 1129.8 L894.3 1126.8 L894.8 1123.8 L895.4 1120.9 L895.9 1117.9 L896.4 1114.9 L897.0 1111.9 L897.5 1108.9 L898.1 1105.9 L898.7 1103.0 L899.2 1100.0 L899.8 1097.0 L900.4 1094.0 L901.0 1091.1 L901.6 1088.1 L902.2 1085.1 L902.8 1082.2 L903.5 1079.2 L904.1 1076.3 L904.7 1073.3 L905.4 1070.4 L906.1 1067.4 L906.7 1064.5 L907.4 1061.5 L908.1 1058.6 L908.8 1055.7 L909.5 1052.7 L910.2 1049.8 L910.9 1046.9 L911.7 1044.0 L912.4 1041.1 L913.2 1038.1 L914.0 1035.2 L914.7 1032.3 L915.5 1029.4 L916.3 1026.5 L917.1 1023.6 L917.9 1020.7 L918.8 1017.9 L919.6 1015.0 L920.5 1012.1 L921.3 1009.2 L922.2 1006.4 L923.1 1003.5 L924.0 1000.6 L924.9 997.8 L925.8 994.9 L926.8 992.1 L927.7 989.2 L928.7 986.4 L929.6 983.6 L930.6 980.7 L931.6 977.9 L932.6 975.1 L933.6 972.3 L934.7 969.5 L935.7 966.7 L936.7 963.9 L937.8 961.1 L938.9 958.3 L940.0 955.5 L941.1 952.7 L942.2 949.9 L943.3 947.2 L944.4 944.4 L945.5 941.6 L946.7 938.9 L947.9 936.1 L949.0 933.4 L950.2 930.6 L951.4 927.9 L952.6 925.1 L953.8 922.4 L955.0 919.7 L956.3 917.0 L957.5 914.2 L958.8 911.5 L960.0 908.8 L961.3 906.1 L962.6 903.4 L963.9 900.7 L965.2 898.0 L966.5 895.3 L967.9 892.7 L969.2 890.0 L970.5 887.3 L971.9 884.6 L973.3 882.0 L974.6 879.3 L976.0 876.7 L977.4 874.0 L978.8 871.4 L980.2 868.7 L981.7 866.1 L983.1 863.5 L984.6 860.9 L986.0 858.2 L987.5 855.6 L988.9 853.0 L990.4 850.4 L991.9 847.8 L993.4 845.2 L994.9 842.6 L996.4 840.0 L998.0 837.4 L999.5 834.9 L1001.0 832.3 L1002.6 829.7 L1004.2 827.1 L1005.7 824.6 L1007.3 822.0 L1008.9 819.5 L1010.5 816.9 L1012.1 814.4 L1013.7 811.9 L1015.3 809.3 L1017.0 806.8 L1018.6 804.3 L1020.3 801.8 L1021.9 799.2 L1023.6 796.7 L1025.3 794.2 L1026.9 791.7 L1028.6 789.2 L1030.3 786.7 L1032.0 784.3 L1033.7 781.8 L1035.5 779.3 L1037.2 776.8 L1038.9 774.4 L1040.7 771.9 L1042.4 769.4 L1044.2 767.0 L1046.0 764.5 L1047.7 762.1 L1049.5 759.7 L1051.3 757.2 L1053.1 754.8 L1054.9 752.4 L1056.7 750.0 L1058.6 747.6 L1060.4 745.1 L1062.2 742.7 L1064.1 740.3 L1065.9 737.9 L1067.8 735.6 L1069.6 733.2 L1071.5 730.8 L1073.4 728.4 L1075.3 726.0 L1077.1 723.7 L1079.0 721.3 L1080.9 719.0 L1082.9 716.6 L1084.8 714.3 L1086.7 711.9 L1088.6 709.6 L1090.6 707.2 L1092.5 704.9 L1094.5 702.6 L1096.4 700.3 L1098.4 698.0 L1100.3 695.6 L1102.3 693.3 L1104.3 691.0 L1106.3 688.7 L1108.3 686.5 L1110.3 684.2 L1112.3 681.9 L1114.3 679.6 L1116.3 677.3 L1118.3 675.1 L1120.4 672.8 L1122.4 670.6 L1124.4 668.3 L1126.5 666.1 L1128.5 663.8 L1130.6 661.6 L1132.6 659.3 L1134.7 657.1 L1136.8 654.9 L1138.9 652.7 L1140.9 650.5 L1143.0 648.3 L1145.1 646.1 L1147.2 643.9 L1149.3 641.7 L1151.4 639.5 L1153.6 637.3 L1155.7 635.1 L1157.8 632.9 L1159.9 630.8 L1162.1 628.6 L1164.2 626.4 L1166.3 624.3 L1168.5 622.1 L1170.6 620.0 L1172.8 617.9 L1175.0 615.7 L1177.1 613.6 L1179.3 611.5 L1181.5 609.3 L1183.6 607.2 L1185.8 605.1 L1188.0 603.0" fill="none" stroke="#76982c" stroke-width="11.5" stroke-linecap="butt" stroke-linejoin="round"/>
<path d="M801.4 1639.4 C801.4 1649.1 802.7 1659.5 801.4 1668.4 C800.3 1676.2 797.8 1684.0 795.0 1690.0 C792.7 1694.9 791.1 1698.8 786.9 1702.3 C781.0 1707.3 770.1 1710.9 760.0 1714.0 C748.0 1717.7 735.7 1718.9 719.1 1721.7 C693.7 1726.0 654.2 1729.1 622.2 1736.3 C589.6 1743.6 554.0 1750.3 525.3 1765.3 C497.8 1779.7 471.2 1799.4 452.7 1823.4 C433.9 1847.7 421.6 1880.1 413.9 1910.6 C406.1 1941.4 406.6 1975.2 406.6 2007.5 C406.6 2039.8 407.5 2073.8 413.9 2104.4 C420.0 2133.4 427.0 2166.1 443.0 2186.7 C457.3 2205.1 480.3 2218.8 501.1 2225.5 C520.8 2231.9 543.1 2227.1 564.1 2227.9" fill="none" stroke="#e31e25" stroke-width="10" stroke-linecap="butt" stroke-linejoin="round"/>
<path d="M835.3 1639.4 C835.3 1657.2 838.4 1675.2 835.3 1692.7 C832.1 1710.7 827.9 1731.7 816.0 1745.9 C803.1 1761.4 782.0 1769.6 757.8 1779.9 C722.7 1794.9 661.6 1806.0 622.2 1818.6 C591.2 1828.5 561.8 1833.9 539.9 1847.7 C521.5 1859.3 501.9 1875.3 496.3 1891.3 C491.6 1904.8 494.6 1925.6 501.1 1934.9 C506.2 1942.2 515.9 1944.7 525.3 1947.0 C536.7 1949.8 552.1 1947.6 565.5 1947.9" fill="none" stroke="#0d4268" stroke-width="10" stroke-linecap="butt" stroke-linejoin="round"/>
<path d="M866.8 1639.4 C867.6 1657.2 865.0 1675.3 869.2 1692.7 C873.6 1710.9 879.7 1732.5 893.5 1745.9 C909.0 1761.0 934.8 1768.2 961.3 1775.0 C995.3 1783.8 1042.8 1783.8 1082.4 1787.1 C1120.3 1790.2 1168.5 1784.1 1193.8 1794.4 C1209.8 1800.9 1221.6 1810.9 1227.7 1823.4 C1234.1 1836.5 1233.0 1857.2 1230.1 1871.9 C1227.5 1885.2 1223.5 1900.4 1213.2 1908.2 C1200.7 1917.7 1173.8 1916.3 1155.0 1917.9 C1137.6 1919.3 1121.1 1917.9 1104.2 1917.9" fill="none" stroke="#76982c" stroke-width="10" stroke-linecap="butt" stroke-linejoin="round"/>
<path d="M1604.2 1534.5 C1604.2 1560.8 1607.5 1588.6 1604.2 1613.3 C1601.2 1636.0 1598.1 1660.7 1587.0 1677.4 C1576.8 1692.8 1554.5 1699.5 1542.6 1711.9 C1532.2 1722.7 1522.0 1734.7 1518.0 1746.4 C1514.7 1756.2 1517.3 1766.1 1517.0 1776.0" fill="none" stroke="#e31e25" stroke-width="11.5" stroke-linecap="butt" stroke-linejoin="round"/>
<path d="M1646.1 1534.5 C1646.9 1555.9 1643.7 1578.1 1648.6 1598.6 C1653.5 1619.2 1662.8 1641.2 1675.7 1657.7 C1688.4 1673.9 1712.4 1684.1 1725.0 1697.1 C1734.6 1707.0 1743.4 1715.3 1747.2 1726.7 C1751.3 1738.9 1747.2 1754.6 1747.2 1768.6" fill="none" stroke="#0d4268" stroke-width="11.5" stroke-linecap="butt" stroke-linejoin="round"/>
<path d="M2146.3 1534.5 C2146.3 1567.4 2153.1 1606.6 2146.3 1633.1 C2141.2 1653.1 2131.4 1667.8 2119.2 1682.3 C2106.3 1697.6 2081.3 1707.8 2070.0 1721.8 C2061.1 1732.8 2055.5 1744.5 2052.7 1756.3 C2050.1 1767.5 2052.7 1779.3 2052.7 1790.8" fill="none" stroke="#e31e25" stroke-width="11.5" stroke-linecap="butt" stroke-linejoin="round"/>
<path d="M2200.6 1534.5 C2203.1 1564.1 2199.4 1600.5 2208.0 1623.2 C2214.4 1640.1 2225.9 1649.2 2237.5 1662.6 C2251.4 1678.6 2276.0 1695.9 2286.8 1711.9 C2294.7 1723.6 2299.4 1735.6 2301.6 1746.4 C2303.4 1755.1 2301.6 1762.9 2301.6 1771.1" fill="none" stroke="#0d4268" stroke-width="11.5" stroke-linecap="butt" stroke-linejoin="round"/>
<path d="M3029.1 287.5 C3030.6 300.0 3033.3 313.9 3033.6 325.0 C3033.9 333.9 3035.2 342.1 3032.1 349.0 C3028.9 356.1 3022.3 361.1 3014.1 367.0 C3001.4 376.1 2978.7 385.2 2960.1 394.0 C2940.7 403.2 2918.6 412.5 2900.0 421.0 C2883.9 428.4 2868.5 432.9 2855.0 442.0 C2841.6 451.0 2828.2 462.8 2819.0 475.0 C2810.7 486.1 2804.3 498.9 2801.0 511.1 C2798.0 522.4 2799.6 534.1 2798.9 545.6" fill="none" stroke="#76982c" stroke-width="11.5" stroke-linecap="butt" stroke-linejoin="round"/>
<path d="M2820.5 545.0 C2821.3 540.0 2821.7 534.6 2823.0 530.0 C2824.2 525.7 2825.7 521.3 2828.0 518.0 C2830.1 515.1 2832.8 512.5 2836.0 511.0 C2839.3 509.4 2843.7 508.9 2847.5 509.0 C2851.3 509.1 2855.4 510.0 2859.0 511.5 C2862.6 513.0 2865.9 515.2 2869.0 518.0 C2872.6 521.2 2876.3 525.3 2879.0 530.0 C2882.1 535.2 2883.8 541.3 2886.0 548.0 C2888.6 556.0 2890.9 565.7 2893.0 575.0 C2895.2 584.7 2897.4 593.9 2899.0 605.0 C2900.9 618.4 2901.9 633.3 2903.0 650.0 C2904.4 670.8 2904.8 696.7 2906.0 720.0 C2907.2 743.3 2907.7 768.7 2910.0 790.0 C2912.0 808.1 2914.1 824.4 2918.0 840.0 C2921.6 854.2 2925.9 868.2 2932.0 880.0 C2937.5 890.6 2944.8 900.2 2952.0 908.0 C2958.3 914.8 2966.0 919.1 2972.0 925.0 C2977.6 930.5 2983.3 935.9 2987.0 942.0 C2990.4 947.6 2992.7 953.7 2994.0 960.0 C2995.4 966.4 2994.7 973.3 2995.0 980.0" fill="none" stroke="#76982c" stroke-width="11.5" stroke-linecap="butt" stroke-linejoin="round"/>
<path d="M3062.1 287.5 L3074.1 539.6" fill="none" stroke="#2c377c" stroke-width="11.5" stroke-linecap="butt" stroke-linejoin="round"/>
<path d="M3084.6 533.6 C3084.9 529.7 3084.6 525.8 3085.5 522.0 C3086.4 518.0 3087.8 513.2 3090.0 510.0 C3092.0 507.0 3095.0 504.5 3098.0 503.0 C3101.0 501.5 3104.4 501.1 3108.0 501.0 C3112.3 500.9 3117.3 501.5 3122.0 503.0 C3127.3 504.7 3133.2 507.4 3138.0 511.0 C3142.9 514.7 3147.3 519.4 3151.0 525.0 C3155.2 531.4 3158.3 539.9 3161.1 548.0 C3164.0 556.5 3166.3 565.3 3168.0 575.0 C3169.9 585.8 3170.8 597.9 3171.6 610.0 C3172.4 622.9 3172.7 635.9 3172.5 650.0 C3172.3 665.7 3171.5 683.8 3170.0 700.0 C3168.6 715.4 3166.9 729.7 3164.0 745.0 C3161.0 761.3 3157.3 779.2 3152.0 795.0 C3146.9 810.1 3141.1 825.3 3133.0 838.0 C3125.3 850.1 3115.6 859.9 3105.0 870.0 C3093.5 880.9 3077.6 891.3 3066.0 900.7 C3056.4 908.4 3047.5 914.3 3040.0 922.0 C3033.0 929.2 3026.8 936.7 3022.0 945.0 C3017.2 953.3 3014.7 963.0 3011.0 972.0" fill="none" stroke="#2c377c" stroke-width="11.5" stroke-linecap="butt" stroke-linejoin="round"/>
<path d="M3090.6 287.5 C3091.1 295.0 3091.3 302.7 3092.1 310.0 C3092.8 316.9 3093.4 323.4 3095.1 330.0 C3096.9 336.8 3099.0 344.1 3102.6 350.0 C3106.1 355.7 3110.6 360.1 3116.1 365.0 C3122.7 370.9 3129.9 376.2 3140.1 382.0 C3155.3 390.7 3180.0 400.5 3200.1 409.0 C3220.0 417.5 3241.7 425.0 3260.2 433.0 C3276.4 440.0 3291.7 446.1 3305.2 454.1 C3317.4 461.3 3329.7 468.9 3338.2 478.1 C3345.7 486.2 3351.6 496.3 3354.7 505.1 C3357.3 512.3 3357.5 519.5 3357.7 526.1 C3357.8 531.9 3356.7 537.1 3356.2 542.6" fill="none" stroke="#e31e25" stroke-width="11.5" stroke-linecap="butt" stroke-linejoin="round"/>
<path d="M3336.7 542.0 C3335.8 537.3 3335.7 532.1 3334.0 528.0 C3332.4 524.2 3330.0 520.6 3327.0 518.0 C3324.0 515.4 3319.9 513.7 3316.0 512.5 C3311.9 511.3 3307.5 511.0 3303.0 511.0 C3298.2 511.0 3293.0 511.7 3288.0 513.0 C3282.7 514.4 3276.9 516.6 3272.0 519.5 C3267.2 522.3 3262.9 525.8 3259.0 530.0 C3254.8 534.5 3251.1 540.2 3248.0 546.0 C3244.7 552.1 3242.3 558.9 3240.0 566.0 C3237.6 573.6 3235.7 580.9 3234.0 590.0 C3231.8 601.6 3231.4 616.0 3229.0 630.0 C3226.3 645.8 3221.7 663.7 3218.0 680.0 C3214.4 695.8 3210.6 710.4 3206.9 726.5 C3202.9 743.7 3198.9 763.2 3195.0 780.0 C3191.5 795.1 3188.4 808.6 3184.6 822.8 C3180.8 837.0 3177.1 851.8 3172.0 865.0 C3167.2 877.4 3162.1 889.4 3155.0 900.0 C3148.0 910.4 3139.3 919.9 3130.0 928.0 C3120.9 935.9 3111.0 942.1 3100.0 948.0 C3087.9 954.5 3073.2 960.1 3060.0 965.0 C3047.6 969.7 3035.4 973.1 3023.1 977.1" fill="none" stroke="#e31e25" stroke-width="11.5" stroke-linecap="butt" stroke-linejoin="round"/>
<use href="#copper" transform="translate(344.0 571.0) rotate(-119.72) scale(1.0087 0.9000)"/>
<use href="#copper" transform="translate(1176.9 590.7) rotate(-45.51) scale(1.0262 1.0000)"/>
<use href="#copper" transform="translate(1391.4 912.8) rotate(-10.98) scale(1.0166 0.9500)"/>
<use href="#copper" transform="translate(304.6 1505.1) rotate(125.08) scale(1.0030 0.9250)"/>
<use href="#copper" transform="translate(2811.0 543.5) rotate(90.00) scale(1.0204 1.2000)"/>
<use href="#copper" transform="translate(3083.0 539.0) rotate(90.00) scale(1.0264 1.2000)"/>
<use href="#copper" transform="translate(3344.0 543.5) rotate(90.00) scale(1.0204 1.2000)"/>
<text x="407" y="578" font-size="100">Фаза</text>
<text x="89" y="1383" font-size="101">Ноль</text>
<text x="902" y="401.3" font-size="50.5">Фаза -левая</text>
<text x="902" y="457.1" font-size="50.5">Клавиша</text>
<text x="1193" y="778" font-size="50.5">Фаза - правая</text>
<text x="1194" y="834.5" font-size="50.5">Клавиша</text>
<text x="9" y="904.4" font-size="67">Приходящий</text>
<text x="8.5" y="979" font-size="67">кабель</text>
</svg></body></html>
